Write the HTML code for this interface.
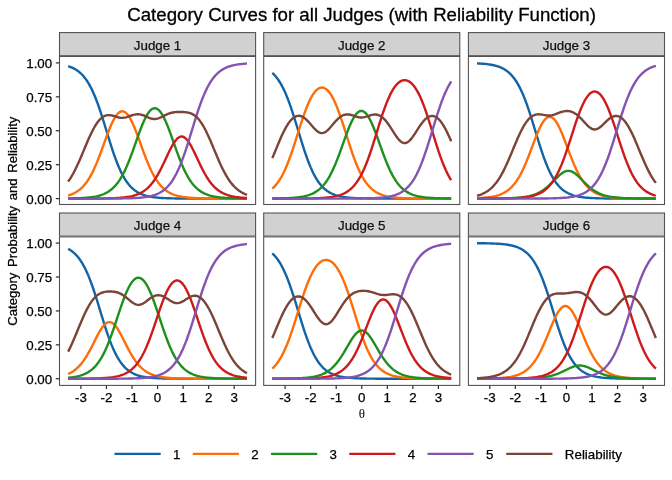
<!DOCTYPE html>
<html><head><meta charset="utf-8"><title>Category Curves for all Judges</title>
<style>
html,body{margin:0;padding:0;background:#fff;}
svg{display:block;will-change:transform}
text{font-family:"Liberation Sans",sans-serif;fill:#000;stroke:#000;stroke-width:0.25px}
.ax{font-size:13.33px;fill:#000}
.st{font-size:13.33px;fill:#101010;stroke:#101010}
.lg{font-size:13.33px}
.c{fill:none;stroke-width:2.4;stroke-linejoin:round;stroke-linecap:butt}
.b{fill:none;stroke:#505050;stroke-width:1.07}
.tk{stroke:#2c2c2c;stroke-width:1.2}
</style></head><body>
<svg width="672" height="480" viewBox="0 0 672 480">
<rect width="672" height="480" fill="#fff"/>
<text x="361.6" y="20.6" text-anchor="middle" style="font-size:18.67px;stroke-width:0.3px">Category Curves for all Judges (with Reliability Function)</text>
<text class="ax" transform="translate(17,221.2) rotate(-90)" text-anchor="middle" style="font-size:13.1px;word-spacing:2.0px">Category Probability and Reliability</text>
<text x="361.9" y="417.7" text-anchor="middle" style="font-family:'Liberation Serif','DejaVu Serif',serif;font-size:13px;stroke:none">θ</text>

<g>
<rect x="59.5" y="32.6" width="196.1" height="23.15" fill="#D1D1D1" stroke="#505050" stroke-width="1.07"/>
<text class="st" x="157.55" y="49.50" text-anchor="middle">Judge 1</text>
<rect x="59.5" y="56.1" width="196.1" height="148.4" fill="#fff"/>
<path class="c" stroke="#1364A7" d="M68.13,66.16 L69.40,66.57 L70.68,67.04 L71.96,67.57 L73.24,68.16 L74.51,68.82 L75.79,69.56 L77.07,70.39 L78.35,71.31 L79.62,72.34 L80.90,73.48 L82.18,74.75 L83.46,76.16 L84.73,77.71 L86.01,79.42 L87.29,81.30 L88.57,83.35 L89.84,85.59 L91.12,88.02 L92.40,90.65 L93.68,93.47 L94.95,96.50 L96.23,99.72 L97.51,103.12 L98.79,106.70 L100.06,110.44 L101.34,114.32 L102.62,118.32 L103.90,122.41 L105.17,126.57 L106.45,130.75 L107.73,134.93 L109.01,139.09 L110.28,143.18 L111.56,147.18 L112.84,151.06 L114.12,154.80 L115.39,158.38 L116.67,161.78 L117.95,165.00 L119.23,168.03 L120.50,170.85 L121.78,173.48 L123.06,175.91 L124.34,178.15 L125.61,180.20 L126.89,182.08 L128.17,183.79 L129.45,185.34 L130.72,186.75 L132.00,188.02 L133.28,189.16 L134.56,190.19 L135.83,191.11 L137.11,191.94 L138.39,192.68 L139.67,193.34 L140.94,193.93 L142.22,194.46 L143.50,194.93 L144.78,195.34 L146.05,195.71 L147.33,196.04 L148.61,196.33 L149.89,196.59 L151.16,196.82 L152.44,197.03 L153.72,197.21 L155.00,197.37 L156.27,197.51 L157.55,197.64 L158.83,197.75 L160.11,197.85 L161.38,197.93 L162.66,198.01 L163.94,198.08 L165.22,198.14 L166.49,198.19 L167.77,198.24 L169.05,198.28 L170.33,198.32 L171.60,198.35 L172.88,198.38 L174.16,198.41 L175.44,198.43 L176.71,198.45 L177.99,198.47 L179.27,198.48 L180.55,198.49 L181.82,198.51 L183.10,198.52 L184.38,198.53 L185.66,198.54 L186.93,198.54 L188.21,198.55 L189.49,198.56 L190.77,198.56 L192.04,198.57 L193.32,198.57 L194.60,198.57 L195.88,198.58 L197.15,198.58 L198.43,198.58 L199.71,198.58 L200.99,198.59 L202.26,198.59 L203.54,198.59 L204.82,198.59 L206.10,198.59 L207.37,198.59 L208.65,198.59 L209.93,198.59 L211.21,198.59 L212.48,198.60 L213.76,198.60 L215.04,198.60 L216.32,198.60 L217.59,198.60 L218.87,198.60 L220.15,198.60 L221.43,198.60 L222.70,198.60 L223.98,198.60 L225.26,198.60 L226.54,198.60 L227.81,198.60 L229.09,198.60 L230.37,198.60 L231.65,198.60 L232.92,198.60 L234.20,198.60 L235.48,198.60 L236.76,198.60 L238.03,198.60 L239.31,198.60 L240.59,198.60 L241.87,198.60 L243.14,198.60 L244.42,198.60 L245.70,198.60 L246.98,198.60"/>
<path class="c" stroke="#FF6D07" d="M68.13,195.50 L69.40,195.10 L70.68,194.66 L71.96,194.16 L73.24,193.60 L74.51,192.97 L75.79,192.27 L77.07,191.48 L78.35,190.61 L79.62,189.64 L80.90,188.55 L82.18,187.35 L83.46,186.03 L84.73,184.57 L86.01,182.96 L87.29,181.19 L88.57,179.27 L89.84,177.18 L91.12,174.91 L92.40,172.47 L93.68,169.86 L94.95,167.07 L96.23,164.12 L97.51,161.01 L98.79,157.77 L100.06,154.41 L101.34,150.96 L102.62,147.44 L103.90,143.89 L105.17,140.35 L106.45,136.84 L107.73,133.42 L109.01,130.11 L110.28,126.97 L111.56,124.03 L112.84,121.32 L114.12,118.88 L115.39,116.74 L116.67,114.92 L117.95,113.45 L119.23,112.35 L120.50,111.62 L121.78,111.28 L123.06,111.32 L124.34,111.76 L125.61,112.58 L126.89,113.77 L128.17,115.33 L129.45,117.22 L130.72,119.44 L132.00,121.95 L133.28,124.71 L134.56,127.71 L135.83,130.89 L137.11,134.23 L138.39,137.68 L139.67,141.19 L140.94,144.74 L142.22,148.29 L143.50,151.79 L144.78,155.23 L146.05,158.56 L147.33,161.77 L148.61,164.84 L149.89,167.75 L151.16,170.50 L152.44,173.07 L153.72,175.47 L155.00,177.70 L156.27,179.75 L157.55,181.63 L158.83,183.36 L160.11,184.93 L161.38,186.36 L162.66,187.65 L163.94,188.82 L165.22,189.88 L166.49,190.83 L167.77,191.68 L169.05,192.44 L170.33,193.13 L171.60,193.74 L172.88,194.28 L174.16,194.77 L175.44,195.20 L176.71,195.59 L177.99,195.93 L179.27,196.23 L180.55,196.50 L181.82,196.74 L183.10,196.96 L184.38,197.15 L185.66,197.31 L186.93,197.46 L188.21,197.59 L189.49,197.71 L190.77,197.81 L192.04,197.90 L193.32,197.98 L194.60,198.05 L195.88,198.12 L197.15,198.17 L198.43,198.22 L199.71,198.27 L200.99,198.31 L202.26,198.34 L203.54,198.37 L204.82,198.40 L206.10,198.42 L207.37,198.44 L208.65,198.46 L209.93,198.48 L211.21,198.49 L212.48,198.50 L213.76,198.51 L215.04,198.52 L216.32,198.53 L217.59,198.54 L218.87,198.55 L220.15,198.55 L221.43,198.56 L222.70,198.56 L223.98,198.57 L225.26,198.57 L226.54,198.58 L227.81,198.58 L229.09,198.58 L230.37,198.58 L231.65,198.58 L232.92,198.59 L234.20,198.59 L235.48,198.59 L236.76,198.59 L238.03,198.59 L239.31,198.59 L240.59,198.59 L241.87,198.59 L243.14,198.59 L244.42,198.60 L245.70,198.60 L246.98,198.60"/>
<path class="c" stroke="#1E901E" d="M68.13,198.45 L69.40,198.43 L70.68,198.41 L71.96,198.38 L73.24,198.35 L74.51,198.32 L75.79,198.28 L77.07,198.24 L78.35,198.20 L79.62,198.14 L80.90,198.08 L82.18,198.02 L83.46,197.94 L84.73,197.85 L86.01,197.76 L87.29,197.65 L88.57,197.52 L89.84,197.38 L91.12,197.22 L92.40,197.05 L93.68,196.84 L94.95,196.62 L96.23,196.36 L97.51,196.07 L98.79,195.75 L100.06,195.38 L101.34,194.97 L102.62,194.51 L103.90,194.00 L105.17,193.41 L106.45,192.77 L107.73,192.04 L109.01,191.23 L110.28,190.32 L111.56,189.32 L112.84,188.20 L114.12,186.96 L115.39,185.59 L116.67,184.08 L117.95,182.42 L119.23,180.60 L120.50,178.62 L121.78,176.46 L123.06,174.13 L124.34,171.62 L125.61,168.93 L126.89,166.07 L128.17,163.04 L129.45,159.86 L130.72,156.54 L132.00,153.10 L133.28,149.56 L134.56,145.97 L135.83,142.34 L137.11,138.71 L138.39,135.13 L139.67,131.63 L140.94,128.24 L142.22,125.02 L143.50,121.99 L144.78,119.19 L146.05,116.65 L147.33,114.41 L148.61,112.48 L149.89,110.89 L151.16,109.66 L152.44,108.79 L153.72,108.31 L155.00,108.20 L156.27,108.47 L157.55,109.13 L158.83,110.16 L160.11,111.55 L161.38,113.29 L162.66,115.36 L163.94,117.74 L165.22,120.39 L166.49,123.29 L167.77,126.41 L169.05,129.71 L170.33,133.16 L171.60,136.70 L172.88,140.31 L174.16,143.94 L175.44,147.56 L176.71,151.13 L177.99,154.62 L179.27,158.01 L180.55,161.28 L181.82,164.39 L183.10,167.35 L184.38,170.13 L185.66,172.74 L186.93,175.18 L188.21,177.43 L189.49,179.51 L190.77,181.42 L192.04,183.17 L193.32,184.76 L194.60,186.21 L195.88,187.52 L197.15,188.70 L198.43,189.77 L199.71,190.73 L200.99,191.60 L202.26,192.37 L203.54,193.06 L204.82,193.68 L206.10,194.23 L207.37,194.72 L208.65,195.16 L209.93,195.55 L211.21,195.90 L212.48,196.20 L213.76,196.48 L215.04,196.72 L216.32,196.94 L217.59,197.13 L218.87,197.30 L220.15,197.45 L221.43,197.58 L222.70,197.70 L223.98,197.80 L225.26,197.89 L226.54,197.98 L227.81,198.05 L229.09,198.11 L230.37,198.17 L231.65,198.22 L232.92,198.26 L234.20,198.30 L235.48,198.34 L236.76,198.37 L238.03,198.39 L239.31,198.42 L240.59,198.44 L241.87,198.46 L243.14,198.47 L244.42,198.49 L245.70,198.50 L246.98,198.51"/>
<path class="c" stroke="#CE1A1B" d="M68.13,198.59 L69.40,198.59 L70.68,198.59 L71.96,198.59 L73.24,198.59 L74.51,198.59 L75.79,198.59 L77.07,198.59 L78.35,198.59 L79.62,198.58 L80.90,198.58 L82.18,198.58 L83.46,198.58 L84.73,198.57 L86.01,198.57 L87.29,198.57 L88.57,198.56 L89.84,198.56 L91.12,198.55 L92.40,198.54 L93.68,198.54 L94.95,198.53 L96.23,198.52 L97.51,198.51 L98.79,198.50 L100.06,198.48 L101.34,198.47 L102.62,198.45 L103.90,198.43 L105.17,198.41 L106.45,198.38 L107.73,198.35 L109.01,198.32 L110.28,198.28 L111.56,198.24 L112.84,198.19 L114.12,198.14 L115.39,198.08 L116.67,198.01 L117.95,197.93 L119.23,197.85 L120.50,197.75 L121.78,197.64 L123.06,197.51 L124.34,197.37 L125.61,197.21 L126.89,197.03 L128.17,196.83 L129.45,196.60 L130.72,196.35 L132.00,196.06 L133.28,195.74 L134.56,195.37 L135.83,194.96 L137.11,194.50 L138.39,193.99 L139.67,193.41 L140.94,192.77 L142.22,192.05 L143.50,191.25 L144.78,190.37 L146.05,189.39 L147.33,188.30 L148.61,187.10 L149.89,185.78 L151.16,184.34 L152.44,182.76 L153.72,181.05 L155.00,179.20 L156.27,177.21 L157.55,175.08 L158.83,172.82 L160.11,170.44 L161.38,167.94 L162.66,165.34 L163.94,162.67 L165.22,159.95 L166.49,157.21 L167.77,154.49 L169.05,151.82 L170.33,149.24 L171.60,146.79 L172.88,144.53 L174.16,142.47 L175.44,140.68 L176.71,139.17 L177.99,137.98 L179.27,137.14 L180.55,136.65 L181.82,136.54 L183.10,136.80 L184.38,137.43 L185.66,138.42 L186.93,139.73 L188.21,141.36 L189.49,143.27 L190.77,145.41 L192.04,147.75 L193.32,150.26 L194.60,152.88 L195.88,155.57 L197.15,158.31 L198.43,161.04 L199.71,163.75 L200.99,166.39 L202.26,168.95 L203.54,171.40 L204.82,173.74 L206.10,175.95 L207.37,178.03 L208.65,179.96 L209.93,181.75 L211.21,183.41 L212.48,184.93 L213.76,186.32 L215.04,187.59 L216.32,188.75 L217.59,189.79 L218.87,190.73 L220.15,191.58 L221.43,192.35 L222.70,193.04 L223.98,193.65 L225.26,194.20 L226.54,194.69 L227.81,195.13 L229.09,195.52 L230.37,195.87 L231.65,196.18 L232.92,196.45 L234.20,196.70 L235.48,196.92 L236.76,197.11 L238.03,197.28 L239.31,197.43 L240.59,197.57 L241.87,197.69 L243.14,197.79 L244.42,197.88 L245.70,197.97 L246.98,198.04"/>
<path class="c" stroke="#8354B1" d="M68.13,198.60 L69.40,198.60 L70.68,198.60 L71.96,198.60 L73.24,198.60 L74.51,198.60 L75.79,198.60 L77.07,198.60 L78.35,198.60 L79.62,198.60 L80.90,198.60 L82.18,198.60 L83.46,198.60 L84.73,198.60 L86.01,198.60 L87.29,198.59 L88.57,198.59 L89.84,198.59 L91.12,198.59 L92.40,198.59 L93.68,198.59 L94.95,198.59 L96.23,198.59 L97.51,198.59 L98.79,198.58 L100.06,198.58 L101.34,198.58 L102.62,198.58 L103.90,198.57 L105.17,198.57 L106.45,198.56 L107.73,198.56 L109.01,198.55 L110.28,198.55 L111.56,198.54 L112.84,198.53 L114.12,198.53 L115.39,198.52 L116.67,198.50 L117.95,198.49 L119.23,198.48 L120.50,198.46 L121.78,198.44 L123.06,198.42 L124.34,198.40 L125.61,198.37 L126.89,198.34 L128.17,198.31 L129.45,198.27 L130.72,198.23 L132.00,198.18 L133.28,198.13 L134.56,198.07 L135.83,198.00 L137.11,197.92 L138.39,197.83 L139.67,197.73 L140.94,197.61 L142.22,197.48 L143.50,197.34 L144.78,197.17 L146.05,196.99 L147.33,196.78 L148.61,196.54 L149.89,196.28 L151.16,195.98 L152.44,195.64 L153.72,195.26 L155.00,194.84 L156.27,194.36 L157.55,193.82 L158.83,193.21 L160.11,192.54 L161.38,191.78 L162.66,190.94 L163.94,189.99 L165.22,188.94 L166.49,187.77 L167.77,186.48 L169.05,185.04 L170.33,183.46 L171.60,181.72 L172.88,179.81 L174.16,177.72 L175.44,175.44 L176.71,172.97 L177.99,170.30 L179.27,167.44 L180.55,164.37 L181.82,161.12 L183.10,157.68 L184.38,154.06 L185.66,150.29 L186.93,146.39 L188.21,142.37 L189.49,138.26 L190.77,134.10 L192.04,129.91 L193.32,125.73 L194.60,121.59 L195.88,117.51 L197.15,113.54 L198.43,109.68 L199.71,105.97 L200.99,102.43 L202.26,99.06 L203.54,95.88 L204.82,92.89 L206.10,90.11 L207.37,87.52 L208.65,85.13 L209.93,82.93 L211.21,80.91 L212.48,79.07 L213.76,77.39 L215.04,75.87 L216.32,74.49 L217.59,73.24 L218.87,72.12 L220.15,71.12 L221.43,70.21 L222.70,69.41 L223.98,68.68 L225.26,68.04 L226.54,67.46 L227.81,66.95 L229.09,66.49 L230.37,66.08 L231.65,65.72 L232.92,65.40 L234.20,65.11 L235.48,64.86 L236.76,64.63 L238.03,64.43 L239.31,64.26 L240.59,64.10 L241.87,63.96 L243.14,63.84 L244.42,63.73 L245.70,63.64 L246.98,63.55"/>
<path class="c" stroke="#7B4439" d="M68.13,181.63 L69.40,179.81 L70.68,177.84 L71.96,175.73 L73.24,173.47 L74.51,171.06 L75.79,168.52 L77.07,165.85 L78.35,163.07 L79.62,160.18 L80.90,157.21 L82.18,154.19 L83.46,151.12 L84.73,148.05 L86.01,145.00 L87.29,141.99 L88.57,139.05 L89.84,136.21 L91.12,133.49 L92.40,130.91 L93.68,128.49 L94.95,126.26 L96.23,124.21 L97.51,122.36 L98.79,120.73 L100.06,119.31 L101.34,118.10 L102.62,117.10 L103.90,116.32 L105.17,115.73 L106.45,115.34 L107.73,115.13 L109.01,115.09 L110.28,115.18 L111.56,115.40 L112.84,115.71 L114.12,116.08 L115.39,116.48 L116.67,116.88 L117.95,117.25 L119.23,117.54 L120.50,117.75 L121.78,117.84 L123.06,117.81 L124.34,117.67 L125.61,117.41 L126.89,117.07 L128.17,116.65 L129.45,116.20 L130.72,115.74 L132.00,115.31 L133.28,114.92 L134.56,114.61 L135.83,114.39 L137.11,114.27 L138.39,114.28 L139.67,114.40 L140.94,114.64 L142.22,114.98 L143.50,115.42 L144.78,115.92 L146.05,116.47 L147.33,117.04 L148.61,117.59 L149.89,118.09 L151.16,118.50 L152.44,118.80 L153.72,118.97 L155.00,119.00 L156.27,118.87 L157.55,118.60 L158.83,118.20 L160.11,117.70 L161.38,117.11 L162.66,116.48 L163.94,115.82 L165.22,115.17 L166.49,114.56 L167.77,113.99 L169.05,113.50 L170.33,113.07 L171.60,112.73 L172.88,112.46 L174.16,112.26 L175.44,112.12 L176.71,112.03 L177.99,111.98 L179.27,111.97 L180.55,111.97 L181.82,112.00 L183.10,112.05 L184.38,112.13 L185.66,112.24 L186.93,112.40 L188.21,112.63 L189.49,112.95 L190.77,113.37 L192.04,113.92 L193.32,114.60 L194.60,115.44 L195.88,116.46 L197.15,117.65 L198.43,119.02 L199.71,120.60 L200.99,122.36 L202.26,124.32 L203.54,126.46 L204.82,128.78 L206.10,131.27 L207.37,133.91 L208.65,136.68 L209.93,139.56 L211.21,142.53 L212.48,145.57 L213.76,148.63 L215.04,151.71 L216.32,154.78 L217.59,157.80 L218.87,160.75 L220.15,163.62 L221.43,166.39 L222.70,169.04 L223.98,171.55 L225.26,173.93 L226.54,176.16 L227.81,178.25 L229.09,180.18 L230.37,181.97 L231.65,183.62 L232.92,185.13 L234.20,186.51 L235.48,187.76 L236.76,188.90 L238.03,189.93 L239.31,190.86 L240.59,191.70 L241.87,192.46 L243.14,193.13 L244.42,193.74 L245.70,194.28 L246.98,194.76"/>
<rect class="b" x="59.5" y="56.45" width="196.1" height="148.05"/>
<line class="tk" x1="55.83" x2="59.5" y1="198.60" y2="198.60"/>
<text class="ax" x="52.20" y="203.50" text-anchor="end">0.00</text>
<line class="tk" x1="55.83" x2="59.5" y1="164.68" y2="164.68"/>
<text class="ax" x="52.20" y="169.58" text-anchor="end">0.25</text>
<line class="tk" x1="55.83" x2="59.5" y1="130.75" y2="130.75"/>
<text class="ax" x="52.20" y="135.65" text-anchor="end">0.50</text>
<line class="tk" x1="55.83" x2="59.5" y1="96.83" y2="96.83"/>
<text class="ax" x="52.20" y="101.73" text-anchor="end">0.75</text>
<line class="tk" x1="55.83" x2="59.5" y1="62.90" y2="62.90"/>
<text class="ax" x="52.20" y="67.80" text-anchor="end">1.00</text>
</g>
<g>
<rect x="263.7" y="32.6" width="196.1" height="23.15" fill="#D1D1D1" stroke="#505050" stroke-width="1.07"/>
<text class="st" x="361.75" y="49.50" text-anchor="middle">Judge 2</text>
<rect x="263.7" y="56.1" width="196.1" height="148.4" fill="#fff"/>
<path class="c" stroke="#1364A7" d="M272.32,72.94 L273.60,74.16 L274.88,75.51 L276.16,77.01 L277.44,78.66 L278.71,80.48 L279.99,82.48 L281.27,84.66 L282.55,87.03 L283.82,89.60 L285.10,92.37 L286.38,95.34 L287.65,98.51 L288.93,101.88 L290.21,105.43 L291.49,109.14 L292.76,113.01 L294.04,117.00 L295.32,121.10 L296.60,125.27 L297.88,129.48 L299.15,133.70 L300.43,137.90 L301.71,142.05 L302.99,146.11 L304.26,150.05 L305.54,153.86 L306.82,157.51 L308.10,160.99 L309.37,164.28 L310.65,167.37 L311.93,170.27 L313.20,172.96 L314.48,175.45 L315.76,177.74 L317.04,179.84 L318.31,181.77 L319.59,183.52 L320.87,185.11 L322.15,186.55 L323.43,187.85 L324.70,189.02 L325.98,190.07 L327.26,191.01 L328.54,191.85 L329.81,192.61 L331.09,193.28 L332.37,193.88 L333.64,194.42 L334.92,194.90 L336.20,195.32 L337.48,195.69 L338.75,196.03 L340.03,196.32 L341.31,196.59 L342.59,196.82 L343.87,197.03 L345.14,197.21 L346.42,197.37 L347.70,197.51 L348.98,197.64 L350.25,197.75 L351.53,197.85 L352.81,197.94 L354.08,198.01 L355.36,198.08 L356.64,198.14 L357.92,198.20 L359.19,198.24 L360.47,198.28 L361.75,198.32 L363.03,198.35 L364.31,198.38 L365.58,198.41 L366.86,198.43 L368.14,198.45 L369.42,198.47 L370.69,198.48 L371.97,198.50 L373.25,198.51 L374.52,198.52 L375.80,198.53 L377.08,198.54 L378.36,198.54 L379.63,198.55 L380.91,198.56 L382.19,198.56 L383.47,198.57 L384.75,198.57 L386.02,198.57 L387.30,198.58 L388.58,198.58 L389.86,198.58 L391.13,198.58 L392.41,198.59 L393.69,198.59 L394.97,198.59 L396.24,198.59 L397.52,198.59 L398.80,198.59 L400.07,198.59 L401.35,198.59 L402.63,198.59 L403.91,198.60 L405.19,198.60 L406.46,198.60 L407.74,198.60 L409.02,198.60 L410.30,198.60 L411.57,198.60 L412.85,198.60 L414.13,198.60 L415.41,198.60 L416.68,198.60 L417.96,198.60 L419.24,198.60 L420.52,198.60 L421.79,198.60 L423.07,198.60 L424.35,198.60 L425.62,198.60 L426.90,198.60 L428.18,198.60 L429.46,198.60 L430.74,198.60 L432.01,198.60 L433.29,198.60 L434.57,198.60 L435.85,198.60 L437.12,198.60 L438.40,198.60 L439.68,198.60 L440.96,198.60 L442.23,198.60 L443.51,198.60 L444.79,198.60 L446.07,198.60 L447.34,198.60 L448.62,198.60 L449.90,198.60 L451.18,198.60"/>
<path class="c" stroke="#FF6D07" d="M272.32,188.67 L273.60,187.47 L274.88,186.13 L276.16,184.65 L277.44,183.02 L278.71,181.22 L279.99,179.25 L281.27,177.10 L282.55,174.77 L283.82,172.23 L285.10,169.51 L286.38,166.58 L287.65,163.47 L288.93,160.17 L290.21,156.69 L291.49,153.05 L292.76,149.28 L294.04,145.39 L295.32,141.41 L296.60,137.37 L297.88,133.31 L299.15,129.26 L300.43,125.25 L301.71,121.32 L302.99,117.51 L304.26,113.84 L305.54,110.34 L306.82,107.04 L308.10,103.95 L309.37,101.11 L310.65,98.51 L311.93,96.18 L313.20,94.12 L314.48,92.34 L315.76,90.83 L317.04,89.61 L318.31,88.67 L319.59,88.02 L320.87,87.65 L322.15,87.56 L323.43,87.76 L324.70,88.25 L325.98,89.01 L327.26,90.07 L328.54,91.40 L329.81,93.02 L331.09,94.91 L332.37,97.08 L333.64,99.52 L334.92,102.22 L336.20,105.16 L337.48,108.33 L338.75,111.71 L340.03,115.29 L341.31,119.02 L342.59,122.88 L343.87,126.85 L345.14,130.88 L346.42,134.94 L347.70,138.99 L348.98,143.01 L350.25,146.96 L351.53,150.80 L352.81,154.53 L354.08,158.10 L355.36,161.51 L356.64,164.74 L357.92,167.78 L359.19,170.62 L360.47,173.27 L361.75,175.72 L363.03,177.98 L364.31,180.06 L365.58,181.96 L366.86,183.69 L368.14,185.26 L369.42,186.68 L370.69,187.96 L371.97,189.12 L373.25,190.16 L374.52,191.09 L375.80,191.93 L377.08,192.67 L378.36,193.34 L379.63,193.93 L380.91,194.46 L382.19,194.93 L383.47,195.35 L384.75,195.72 L386.02,196.05 L387.30,196.35 L388.58,196.61 L389.86,196.84 L391.13,197.04 L392.41,197.22 L393.69,197.38 L394.97,197.52 L396.24,197.65 L397.52,197.76 L398.80,197.86 L400.07,197.94 L401.35,198.02 L402.63,198.09 L403.91,198.15 L405.19,198.20 L406.46,198.25 L407.74,198.29 L409.02,198.32 L410.30,198.36 L411.57,198.39 L412.85,198.41 L414.13,198.43 L415.41,198.45 L416.68,198.47 L417.96,198.48 L419.24,198.50 L420.52,198.51 L421.79,198.52 L423.07,198.53 L424.35,198.54 L425.62,198.55 L426.90,198.55 L428.18,198.56 L429.46,198.56 L430.74,198.57 L432.01,198.57 L433.29,198.57 L434.57,198.58 L435.85,198.58 L437.12,198.58 L438.40,198.58 L439.68,198.59 L440.96,198.59 L442.23,198.59 L443.51,198.59 L444.79,198.59 L446.07,198.59 L447.34,198.59 L448.62,198.59 L449.90,198.59 L451.18,198.60"/>
<path class="c" stroke="#1E901E" d="M272.32,198.50 L273.60,198.48 L274.88,198.47 L276.16,198.45 L277.44,198.43 L278.71,198.41 L279.99,198.38 L281.27,198.35 L282.55,198.32 L283.82,198.28 L285.10,198.24 L286.38,198.20 L287.65,198.14 L288.93,198.08 L290.21,198.01 L291.49,197.94 L292.76,197.85 L294.04,197.75 L295.32,197.64 L296.60,197.51 L297.88,197.37 L299.15,197.21 L300.43,197.02 L301.71,196.82 L302.99,196.58 L304.26,196.32 L305.54,196.03 L306.82,195.69 L308.10,195.32 L309.37,194.90 L310.65,194.42 L311.93,193.89 L313.20,193.29 L314.48,192.62 L315.76,191.87 L317.04,191.03 L318.31,190.10 L319.59,189.06 L320.87,187.91 L322.15,186.63 L323.43,185.21 L324.70,183.66 L325.98,181.95 L327.26,180.07 L328.54,178.03 L329.81,175.81 L331.09,173.42 L332.37,170.85 L333.64,168.10 L334.92,165.18 L336.20,162.10 L337.48,158.88 L338.75,155.52 L340.03,152.06 L341.31,148.53 L342.59,144.95 L343.87,141.36 L345.14,137.80 L346.42,134.30 L347.70,130.92 L348.98,127.69 L350.25,124.65 L351.53,121.84 L352.81,119.29 L354.08,117.03 L355.36,115.10 L356.64,113.51 L357.92,112.29 L359.19,111.44 L360.47,110.99 L361.75,110.93 L363.03,111.27 L364.31,111.99 L365.58,113.10 L366.86,114.58 L368.14,116.42 L369.42,118.58 L370.69,121.04 L371.97,123.78 L373.25,126.76 L374.52,129.94 L375.80,133.28 L377.08,136.74 L378.36,140.28 L379.63,143.87 L380.91,147.46 L382.19,151.01 L383.47,154.49 L384.75,157.88 L386.02,161.15 L387.30,164.27 L388.58,167.24 L389.86,170.04 L391.13,172.67 L392.41,175.12 L393.69,177.38 L394.97,179.48 L396.24,181.40 L397.52,183.16 L398.80,184.76 L400.07,186.22 L401.35,187.54 L402.63,188.73 L403.91,189.80 L405.19,190.77 L406.46,191.63 L407.74,192.41 L409.02,193.10 L410.30,193.72 L411.57,194.27 L412.85,194.76 L414.13,195.20 L415.41,195.59 L416.68,195.93 L417.96,196.24 L419.24,196.51 L420.52,196.75 L421.79,196.96 L423.07,197.15 L424.35,197.32 L425.62,197.47 L426.90,197.60 L428.18,197.72 L429.46,197.82 L430.74,197.91 L432.01,197.99 L433.29,198.06 L434.57,198.12 L435.85,198.18 L437.12,198.23 L438.40,198.27 L439.68,198.31 L440.96,198.34 L442.23,198.37 L443.51,198.40 L444.79,198.42 L446.07,198.44 L447.34,198.46 L448.62,198.48 L449.90,198.49 L451.18,198.51"/>
<path class="c" stroke="#CE1A1B" d="M272.32,198.60 L273.60,198.59 L274.88,198.59 L276.16,198.59 L277.44,198.59 L278.71,198.59 L279.99,198.59 L281.27,198.59 L282.55,198.59 L283.82,198.58 L285.10,198.58 L286.38,198.58 L287.65,198.58 L288.93,198.57 L290.21,198.57 L291.49,198.57 L292.76,198.56 L294.04,198.56 L295.32,198.55 L296.60,198.55 L297.88,198.54 L299.15,198.53 L300.43,198.52 L301.71,198.51 L302.99,198.50 L304.26,198.49 L305.54,198.47 L306.82,198.46 L308.10,198.44 L309.37,198.42 L310.65,198.39 L311.93,198.36 L313.20,198.33 L314.48,198.30 L315.76,198.26 L317.04,198.21 L318.31,198.16 L319.59,198.10 L320.87,198.04 L322.15,197.96 L323.43,197.88 L324.70,197.79 L325.98,197.68 L327.26,197.56 L328.54,197.42 L329.81,197.26 L331.09,197.09 L332.37,196.89 L333.64,196.67 L334.92,196.42 L336.20,196.13 L337.48,195.81 L338.75,195.45 L340.03,195.04 L341.31,194.59 L342.59,194.07 L343.87,193.50 L345.14,192.85 L346.42,192.12 L347.70,191.31 L348.98,190.40 L350.25,189.39 L351.53,188.26 L352.81,187.01 L354.08,185.62 L355.36,184.09 L356.64,182.40 L357.92,180.54 L359.19,178.50 L360.47,176.28 L361.75,173.86 L363.03,171.25 L364.31,168.44 L365.58,165.43 L366.86,162.23 L368.14,158.84 L369.42,155.27 L370.69,151.55 L371.97,147.68 L373.25,143.71 L374.52,139.64 L375.80,135.52 L377.08,131.37 L378.36,127.24 L379.63,123.14 L380.91,119.13 L382.19,115.22 L383.47,111.45 L384.75,107.83 L386.02,104.40 L387.30,101.18 L388.58,98.16 L389.86,95.38 L391.13,92.83 L392.41,90.51 L393.69,88.43 L394.97,86.60 L396.24,85.00 L397.52,83.63 L398.80,82.50 L400.07,81.59 L401.35,80.91 L402.63,80.44 L403.91,80.20 L405.19,80.18 L406.46,80.38 L407.74,80.80 L409.02,81.43 L410.30,82.30 L411.57,83.39 L412.85,84.70 L414.13,86.26 L415.41,88.05 L416.68,90.08 L417.96,92.34 L419.24,94.85 L420.52,97.59 L421.79,100.56 L423.07,103.74 L424.35,107.13 L425.62,110.71 L426.90,114.45 L428.18,118.34 L429.46,122.33 L430.74,126.41 L432.01,130.54 L433.29,134.69 L434.57,138.82 L435.85,142.90 L437.12,146.90 L438.40,150.78 L439.68,154.54 L440.96,158.14 L442.23,161.57 L443.51,164.81 L444.79,167.86 L446.07,170.71 L447.34,173.36 L448.62,175.81 L449.90,178.07 L451.18,180.14"/>
<path class="c" stroke="#8354B1" d="M272.32,198.60 L273.60,198.60 L274.88,198.60 L276.16,198.60 L277.44,198.60 L278.71,198.60 L279.99,198.60 L281.27,198.60 L282.55,198.60 L283.82,198.60 L285.10,198.60 L286.38,198.60 L287.65,198.60 L288.93,198.60 L290.21,198.60 L291.49,198.60 L292.76,198.60 L294.04,198.60 L295.32,198.60 L296.60,198.60 L297.88,198.60 L299.15,198.60 L300.43,198.60 L301.71,198.60 L302.99,198.60 L304.26,198.60 L305.54,198.60 L306.82,198.60 L308.10,198.60 L309.37,198.60 L310.65,198.60 L311.93,198.60 L313.20,198.60 L314.48,198.60 L315.76,198.60 L317.04,198.60 L318.31,198.60 L319.59,198.60 L320.87,198.60 L322.15,198.60 L323.43,198.60 L324.70,198.60 L325.98,198.60 L327.26,198.60 L328.54,198.59 L329.81,198.59 L331.09,198.59 L332.37,198.59 L333.64,198.59 L334.92,198.59 L336.20,198.59 L337.48,198.59 L338.75,198.59 L340.03,198.58 L341.31,198.58 L342.59,198.58 L343.87,198.58 L345.14,198.57 L346.42,198.57 L347.70,198.56 L348.98,198.56 L350.25,198.55 L351.53,198.55 L352.81,198.54 L354.08,198.53 L355.36,198.52 L356.64,198.51 L357.92,198.50 L359.19,198.49 L360.47,198.48 L361.75,198.46 L363.03,198.44 L364.31,198.42 L365.58,198.40 L366.86,198.37 L368.14,198.34 L369.42,198.30 L370.69,198.26 L371.97,198.22 L373.25,198.17 L374.52,198.11 L375.80,198.05 L377.08,197.98 L378.36,197.89 L379.63,197.80 L380.91,197.70 L382.19,197.58 L383.47,197.44 L384.75,197.29 L386.02,197.12 L387.30,196.93 L388.58,196.71 L389.86,196.46 L391.13,196.18 L392.41,195.87 L393.69,195.51 L394.97,195.11 L396.24,194.66 L397.52,194.16 L398.80,193.59 L400.07,192.96 L401.35,192.24 L402.63,191.44 L403.91,190.55 L405.19,189.56 L406.46,188.45 L407.74,187.21 L409.02,185.85 L410.30,184.33 L411.57,182.66 L412.85,180.83 L414.13,178.81 L415.41,176.62 L416.68,174.23 L417.96,171.64 L419.24,168.84 L420.52,165.85 L421.79,162.66 L423.07,159.28 L424.35,155.71 L425.62,151.98 L426.90,148.10 L428.18,144.09 L429.46,139.98 L430.74,135.81 L432.01,131.59 L433.29,127.37 L434.57,123.18 L435.85,119.04 L437.12,114.99 L438.40,111.06 L439.68,107.26 L440.96,103.63 L442.23,100.17 L443.51,96.90 L444.79,93.83 L446.07,90.96 L447.34,88.29 L448.62,85.82 L449.90,83.54 L451.18,81.46"/>
<path class="c" stroke="#7B4439" d="M272.32,158.15 L273.60,155.11 L274.88,152.02 L276.16,148.91 L277.44,145.81 L278.71,142.75 L279.99,139.76 L281.27,136.85 L282.55,134.07 L283.82,131.42 L285.10,128.94 L286.38,126.64 L287.65,124.54 L288.93,122.64 L290.21,120.97 L291.49,119.52 L292.76,118.31 L294.04,117.34 L295.32,116.60 L296.60,116.10 L297.88,115.84 L299.15,115.81 L300.43,116.00 L301.71,116.42 L302.99,117.05 L304.26,117.88 L305.54,118.88 L306.82,120.05 L308.10,121.35 L309.37,122.76 L310.65,124.24 L311.93,125.74 L313.20,127.23 L314.48,128.65 L315.76,129.95 L317.04,131.09 L318.31,132.01 L319.59,132.68 L320.87,133.06 L322.15,133.15 L323.43,132.94 L324.70,132.43 L325.98,131.65 L327.26,130.63 L328.54,129.41 L329.81,128.04 L331.09,126.57 L332.37,125.04 L333.64,123.51 L334.92,122.02 L336.20,120.60 L337.48,119.29 L338.75,118.11 L340.03,117.07 L341.31,116.20 L342.59,115.50 L343.87,114.97 L345.14,114.62 L346.42,114.43 L347.70,114.40 L348.98,114.51 L350.25,114.74 L351.53,115.06 L352.81,115.46 L354.08,115.89 L355.36,116.32 L356.64,116.72 L357.92,117.05 L359.19,117.30 L360.47,117.44 L361.75,117.46 L363.03,117.36 L364.31,117.15 L365.58,116.84 L366.86,116.46 L368.14,116.04 L369.42,115.62 L370.69,115.22 L371.97,114.88 L373.25,114.64 L374.52,114.51 L375.80,114.53 L377.08,114.70 L378.36,115.05 L379.63,115.58 L380.91,116.31 L382.19,117.22 L383.47,118.33 L384.75,119.62 L386.02,121.09 L387.30,122.72 L388.58,124.49 L389.86,126.38 L391.13,128.34 L392.41,130.36 L393.69,132.38 L394.97,134.37 L396.24,136.26 L397.52,138.01 L398.80,139.57 L400.07,140.89 L401.35,141.93 L402.63,142.66 L403.91,143.05 L405.19,143.09 L406.46,142.77 L407.74,142.11 L409.02,141.13 L410.30,139.87 L411.57,138.36 L412.85,136.65 L414.13,134.79 L415.41,132.83 L416.68,130.83 L417.96,128.83 L419.24,126.87 L420.52,125.00 L421.79,123.24 L423.07,121.63 L424.35,120.19 L425.62,118.94 L426.90,117.90 L428.18,117.07 L429.46,116.47 L430.74,116.10 L432.01,115.97 L433.29,116.07 L434.57,116.43 L435.85,117.02 L437.12,117.86 L438.40,118.94 L439.68,120.26 L440.96,121.81 L442.23,123.59 L443.51,125.58 L444.79,127.78 L446.07,130.17 L447.34,132.74 L448.62,135.45 L449.90,138.30 L451.18,141.25"/>
<rect class="b" x="263.7" y="56.45" width="196.1" height="148.05"/>
</g>
<g>
<rect x="468.4" y="32.6" width="196.1" height="23.15" fill="#D1D1D1" stroke="#505050" stroke-width="1.07"/>
<text class="st" x="566.45" y="49.50" text-anchor="middle">Judge 3</text>
<rect x="468.4" y="56.1" width="196.1" height="148.4" fill="#fff"/>
<path class="c" stroke="#1364A7" d="M477.02,63.37 L478.30,63.44 L479.58,63.51 L480.86,63.59 L482.13,63.68 L483.41,63.78 L484.69,63.89 L485.97,64.02 L487.24,64.17 L488.52,64.34 L489.80,64.52 L491.08,64.73 L492.35,64.97 L493.63,65.24 L494.91,65.54 L496.19,65.89 L497.46,66.27 L498.74,66.70 L500.02,67.19 L501.30,67.73 L502.57,68.35 L503.85,69.03 L505.13,69.80 L506.41,70.66 L507.68,71.62 L508.96,72.69 L510.24,73.88 L511.52,75.19 L512.79,76.65 L514.07,78.26 L515.35,80.03 L516.63,81.98 L517.90,84.10 L519.18,86.42 L520.46,88.93 L521.74,91.63 L523.01,94.54 L524.29,97.65 L525.57,100.95 L526.85,104.44 L528.12,108.10 L529.40,111.91 L530.68,115.85 L531.96,119.91 L533.23,124.04 L534.51,128.23 L535.79,132.43 L537.07,136.62 L538.34,140.77 L539.62,144.84 L540.90,148.81 L542.18,152.65 L543.45,156.34 L544.73,159.86 L546.01,163.20 L547.29,166.35 L548.56,169.30 L549.84,172.05 L551.12,174.60 L552.40,176.95 L553.67,179.11 L554.95,181.09 L556.23,182.90 L557.51,184.54 L558.78,186.03 L560.06,187.37 L561.34,188.58 L562.62,189.68 L563.89,190.66 L565.17,191.53 L566.45,192.32 L567.73,193.02 L569.00,193.65 L570.28,194.21 L571.56,194.70 L572.84,195.15 L574.11,195.54 L575.39,195.89 L576.67,196.20 L577.95,196.48 L579.22,196.72 L580.50,196.94 L581.78,197.13 L583.06,197.30 L584.33,197.45 L585.61,197.58 L586.89,197.70 L588.17,197.80 L589.44,197.90 L590.72,197.98 L592.00,198.05 L593.28,198.11 L594.55,198.17 L595.83,198.22 L597.11,198.27 L598.39,198.30 L599.66,198.34 L600.94,198.37 L602.22,198.40 L603.50,198.42 L604.77,198.44 L606.05,198.46 L607.33,198.48 L608.61,198.49 L609.88,198.50 L611.16,198.51 L612.44,198.52 L613.72,198.53 L614.99,198.54 L616.27,198.55 L617.55,198.55 L618.83,198.56 L620.10,198.56 L621.38,198.57 L622.66,198.57 L623.94,198.58 L625.21,198.58 L626.49,198.58 L627.77,198.58 L629.05,198.58 L630.32,198.59 L631.60,198.59 L632.88,198.59 L634.16,198.59 L635.43,198.59 L636.71,198.59 L637.99,198.59 L639.27,198.59 L640.54,198.60 L641.82,198.60 L643.10,198.60 L644.38,198.60 L645.65,198.60 L646.93,198.60 L648.21,198.60 L649.49,198.60 L650.76,198.60 L652.04,198.60 L653.32,198.60 L654.60,198.60 L655.87,198.60"/>
<path class="c" stroke="#FF6D07" d="M477.02,198.16 L478.30,198.10 L479.58,198.03 L480.86,197.96 L482.13,197.87 L483.41,197.78 L484.69,197.67 L485.97,197.55 L487.24,197.41 L488.52,197.25 L489.80,197.08 L491.08,196.88 L492.35,196.66 L493.63,196.41 L494.91,196.12 L496.19,195.80 L497.46,195.44 L498.74,195.04 L500.02,194.58 L501.30,194.07 L502.57,193.50 L503.85,192.86 L505.13,192.14 L506.41,191.34 L507.68,190.45 L508.96,189.46 L510.24,188.35 L511.52,187.13 L512.79,185.78 L514.07,184.29 L515.35,182.66 L516.63,180.87 L517.90,178.92 L519.18,176.81 L520.46,174.52 L521.74,172.07 L523.01,169.44 L524.29,166.66 L525.57,163.72 L526.85,160.64 L528.12,157.44 L529.40,154.15 L530.68,150.78 L531.96,147.37 L533.23,143.97 L534.51,140.59 L535.79,137.30 L537.07,134.12 L538.34,131.09 L539.62,128.27 L540.90,125.69 L542.18,123.38 L543.45,121.38 L544.73,119.72 L546.01,118.41 L547.29,117.49 L548.56,116.95 L549.84,116.81 L551.12,117.07 L552.40,117.72 L553.67,118.77 L554.95,120.18 L556.23,121.95 L557.51,124.05 L558.78,126.44 L560.06,129.10 L561.34,131.98 L562.62,135.05 L563.89,138.27 L565.17,141.60 L566.45,144.99 L567.73,148.40 L569.00,151.80 L570.28,155.14 L571.56,158.41 L572.84,161.58 L574.11,164.62 L575.39,167.51 L576.67,170.25 L577.95,172.82 L579.22,175.23 L580.50,177.46 L581.78,179.52 L583.06,181.42 L584.33,183.17 L585.61,184.75 L586.89,186.20 L588.17,187.51 L589.44,188.70 L590.72,189.77 L592.00,190.73 L593.28,191.59 L594.55,192.37 L595.83,193.06 L597.11,193.68 L598.39,194.23 L599.66,194.72 L600.94,195.16 L602.22,195.55 L603.50,195.90 L604.77,196.21 L606.05,196.48 L607.33,196.73 L608.61,196.94 L609.88,197.13 L611.16,197.30 L612.44,197.45 L613.72,197.58 L614.99,197.70 L616.27,197.81 L617.55,197.90 L618.83,197.98 L620.10,198.05 L621.38,198.12 L622.66,198.17 L623.94,198.22 L625.21,198.27 L626.49,198.30 L627.77,198.34 L629.05,198.37 L630.32,198.40 L631.60,198.42 L632.88,198.44 L634.16,198.46 L635.43,198.48 L636.71,198.49 L637.99,198.50 L639.27,198.51 L640.54,198.52 L641.82,198.53 L643.10,198.54 L644.38,198.55 L645.65,198.55 L646.93,198.56 L648.21,198.56 L649.49,198.57 L650.76,198.57 L652.04,198.58 L653.32,198.58 L654.60,198.58 L655.87,198.58"/>
<path class="c" stroke="#1E901E" d="M477.02,198.58 L478.30,198.58 L479.58,198.58 L480.86,198.58 L482.13,198.57 L483.41,198.57 L484.69,198.57 L485.97,198.56 L487.24,198.56 L488.52,198.55 L489.80,198.54 L491.08,198.54 L492.35,198.53 L493.63,198.52 L494.91,198.51 L496.19,198.49 L497.46,198.48 L498.74,198.46 L500.02,198.45 L501.30,198.43 L502.57,198.40 L503.85,198.38 L505.13,198.35 L506.41,198.32 L507.68,198.28 L508.96,198.24 L510.24,198.19 L511.52,198.14 L512.79,198.07 L514.07,198.01 L515.35,197.93 L516.63,197.84 L517.90,197.74 L519.18,197.63 L520.46,197.51 L521.74,197.37 L523.01,197.21 L524.29,197.03 L525.57,196.83 L526.85,196.60 L528.12,196.35 L529.40,196.07 L530.68,195.75 L531.96,195.40 L533.23,195.01 L534.51,194.57 L535.79,194.08 L537.07,193.55 L538.34,192.95 L539.62,192.30 L540.90,191.59 L542.18,190.80 L543.45,189.95 L544.73,189.04 L546.01,188.05 L547.29,186.99 L548.56,185.87 L549.84,184.69 L551.12,183.46 L552.40,182.19 L553.67,180.90 L554.95,179.59 L556.23,178.29 L557.51,177.03 L558.78,175.81 L560.06,174.68 L561.34,173.65 L562.62,172.75 L563.89,172.00 L565.17,171.42 L566.45,171.03 L567.73,170.83 L569.00,170.84 L570.28,171.06 L571.56,171.47 L572.84,172.07 L574.11,172.83 L575.39,173.75 L576.67,174.79 L577.95,175.93 L579.22,177.15 L580.50,178.42 L581.78,179.72 L583.06,181.03 L584.33,182.32 L585.61,183.59 L586.89,184.81 L588.17,185.99 L589.44,187.10 L590.72,188.15 L592.00,189.13 L593.28,190.04 L594.55,190.89 L595.83,191.66 L597.11,192.37 L598.39,193.02 L599.66,193.60 L600.94,194.13 L602.22,194.62 L603.50,195.05 L604.77,195.44 L606.05,195.79 L607.33,196.10 L608.61,196.38 L609.88,196.63 L611.16,196.85 L612.44,197.05 L613.72,197.22 L614.99,197.38 L616.27,197.52 L617.55,197.64 L618.83,197.75 L620.10,197.85 L621.38,197.94 L622.66,198.01 L623.94,198.08 L625.21,198.14 L626.49,198.19 L627.77,198.24 L629.05,198.28 L630.32,198.32 L631.60,198.35 L632.88,198.38 L634.16,198.41 L635.43,198.43 L636.71,198.45 L637.99,198.47 L639.27,198.48 L640.54,198.50 L641.82,198.51 L643.10,198.52 L644.38,198.53 L645.65,198.54 L646.93,198.54 L648.21,198.55 L649.49,198.56 L650.76,198.56 L652.04,198.57 L653.32,198.57 L654.60,198.57 L655.87,198.58"/>
<path class="c" stroke="#CE1A1B" d="M477.02,198.59 L478.30,198.59 L479.58,198.58 L480.86,198.58 L482.13,198.58 L483.41,198.58 L484.69,198.57 L485.97,198.57 L487.24,198.57 L488.52,198.56 L489.80,198.56 L491.08,198.55 L492.35,198.54 L493.63,198.54 L494.91,198.53 L496.19,198.52 L497.46,198.51 L498.74,198.50 L500.02,198.48 L501.30,198.47 L502.57,198.45 L503.85,198.43 L505.13,198.41 L506.41,198.38 L507.68,198.35 L508.96,198.32 L510.24,198.29 L511.52,198.24 L512.79,198.20 L514.07,198.14 L515.35,198.08 L516.63,198.02 L517.90,197.94 L519.18,197.85 L520.46,197.76 L521.74,197.64 L523.01,197.52 L524.29,197.38 L525.57,197.22 L526.85,197.04 L528.12,196.84 L529.40,196.61 L530.68,196.35 L531.96,196.06 L533.23,195.73 L534.51,195.36 L535.79,194.94 L537.07,194.47 L538.34,193.95 L539.62,193.36 L540.90,192.70 L542.18,191.96 L543.45,191.13 L544.73,190.21 L546.01,189.18 L547.29,188.03 L548.56,186.76 L549.84,185.36 L551.12,183.81 L552.40,182.10 L553.67,180.22 L554.95,178.18 L556.23,175.94 L557.51,173.53 L558.78,170.91 L560.06,168.11 L561.34,165.12 L562.62,161.93 L563.89,158.58 L565.17,155.06 L566.45,151.40 L567.73,147.61 L569.00,143.73 L570.28,139.78 L571.56,135.80 L572.84,131.81 L574.11,127.86 L575.39,123.98 L576.67,120.20 L577.95,116.57 L579.22,113.10 L580.50,109.82 L581.78,106.77 L583.06,103.96 L584.33,101.41 L585.61,99.13 L586.89,97.14 L588.17,95.44 L589.44,94.03 L590.72,92.94 L592.00,92.15 L593.28,91.67 L594.55,91.50 L595.83,91.64 L597.11,92.09 L598.39,92.84 L599.66,93.91 L600.94,95.28 L602.22,96.95 L603.50,98.92 L604.77,101.17 L606.05,103.69 L607.33,106.48 L608.61,109.51 L609.88,112.76 L611.16,116.21 L612.44,119.83 L613.72,123.60 L614.99,127.47 L616.27,131.41 L617.55,135.40 L618.83,139.38 L620.10,143.34 L621.38,147.23 L622.66,151.02 L623.94,154.70 L625.21,158.23 L626.49,161.61 L627.77,164.81 L629.05,167.82 L630.32,170.64 L631.60,173.27 L632.88,175.71 L634.16,177.96 L635.43,180.03 L636.71,181.92 L637.99,183.64 L639.27,185.21 L640.54,186.63 L641.82,187.91 L643.10,189.07 L644.38,190.11 L645.65,191.04 L646.93,191.88 L648.21,192.63 L649.49,193.30 L650.76,193.89 L652.04,194.42 L653.32,194.90 L654.60,195.32 L655.87,195.69"/>
<path class="c" stroke="#8354B1" d="M477.02,198.60 L478.30,198.60 L479.58,198.60 L480.86,198.60 L482.13,198.60 L483.41,198.60 L484.69,198.60 L485.97,198.60 L487.24,198.60 L488.52,198.60 L489.80,198.60 L491.08,198.60 L492.35,198.60 L493.63,198.60 L494.91,198.60 L496.19,198.60 L497.46,198.60 L498.74,198.60 L500.02,198.60 L501.30,198.60 L502.57,198.60 L503.85,198.60 L505.13,198.60 L506.41,198.60 L507.68,198.60 L508.96,198.60 L510.24,198.60 L511.52,198.59 L512.79,198.59 L514.07,198.59 L515.35,198.59 L516.63,198.59 L517.90,198.59 L519.18,198.59 L520.46,198.59 L521.74,198.59 L523.01,198.58 L524.29,198.58 L525.57,198.58 L526.85,198.58 L528.12,198.57 L529.40,198.57 L530.68,198.57 L531.96,198.56 L533.23,198.56 L534.51,198.55 L535.79,198.55 L537.07,198.54 L538.34,198.53 L539.62,198.52 L540.90,198.51 L542.18,198.50 L543.45,198.49 L544.73,198.47 L546.01,198.46 L547.29,198.44 L548.56,198.42 L549.84,198.39 L551.12,198.37 L552.40,198.34 L553.67,198.30 L554.95,198.26 L556.23,198.22 L557.51,198.17 L558.78,198.11 L560.06,198.04 L561.34,197.97 L562.62,197.89 L563.89,197.79 L565.17,197.69 L566.45,197.57 L567.73,197.44 L569.00,197.28 L570.28,197.11 L571.56,196.92 L572.84,196.70 L574.11,196.45 L575.39,196.17 L576.67,195.86 L577.95,195.50 L579.22,195.11 L580.50,194.66 L581.78,194.15 L583.06,193.59 L584.33,192.96 L585.61,192.24 L586.89,191.45 L588.17,190.56 L589.44,189.57 L590.72,188.47 L592.00,187.24 L593.28,185.88 L594.55,184.38 L595.83,182.72 L597.11,180.90 L598.39,178.90 L599.66,176.72 L600.94,174.35 L602.22,171.78 L603.50,169.01 L604.77,166.04 L606.05,162.88 L607.33,159.52 L608.61,155.98 L609.88,152.28 L611.16,148.42 L612.44,144.44 L613.72,140.36 L614.99,136.21 L616.27,132.01 L617.55,127.81 L618.83,123.62 L620.10,119.50 L621.38,115.45 L622.66,111.52 L623.94,107.72 L625.21,104.08 L626.49,100.61 L627.77,97.33 L629.05,94.24 L630.32,91.35 L631.60,88.67 L632.88,86.18 L634.16,83.88 L635.43,81.78 L636.71,79.85 L637.99,78.09 L639.27,76.50 L640.54,75.06 L641.82,73.75 L643.10,72.58 L644.38,71.52 L645.65,70.57 L646.93,69.72 L648.21,68.96 L649.49,68.28 L650.76,67.68 L652.04,67.14 L653.32,66.66 L654.60,66.23 L655.87,65.85"/>
<path class="c" stroke="#7B4439" d="M477.02,195.76 L478.30,195.39 L479.58,194.99 L480.86,194.53 L482.13,194.02 L483.41,193.44 L484.69,192.80 L485.97,192.08 L487.24,191.28 L488.52,190.39 L489.80,189.41 L491.08,188.32 L492.35,187.11 L493.63,185.79 L494.91,184.33 L496.19,182.74 L497.46,181.01 L498.74,179.13 L500.02,177.10 L501.30,174.93 L502.57,172.60 L503.85,170.13 L505.13,167.53 L506.41,164.80 L507.68,161.96 L508.96,159.02 L510.24,156.01 L511.52,152.95 L512.79,149.86 L514.07,146.77 L515.35,143.71 L516.63,140.70 L517.90,137.77 L519.18,134.95 L520.46,132.26 L521.74,129.72 L523.01,127.35 L524.29,125.17 L525.57,123.17 L526.85,121.38 L528.12,119.80 L529.40,118.44 L530.68,117.28 L531.96,116.33 L533.23,115.57 L534.51,115.01 L535.79,114.63 L537.07,114.41 L538.34,114.32 L539.62,114.36 L540.90,114.49 L542.18,114.68 L543.45,114.90 L544.73,115.12 L546.01,115.31 L547.29,115.45 L548.56,115.50 L549.84,115.46 L551.12,115.32 L552.40,115.08 L553.67,114.75 L554.95,114.35 L556.23,113.89 L557.51,113.41 L558.78,112.92 L560.06,112.44 L561.34,112.01 L562.62,111.64 L563.89,111.34 L565.17,111.13 L566.45,111.02 L567.73,111.02 L569.00,111.14 L570.28,111.39 L571.56,111.76 L572.84,112.27 L574.11,112.91 L575.39,113.69 L576.67,114.59 L577.95,115.63 L579.22,116.78 L580.50,118.03 L581.78,119.36 L583.06,120.74 L584.33,122.15 L585.61,123.55 L586.89,124.89 L588.17,126.13 L589.44,127.23 L590.72,128.14 L592.00,128.83 L593.28,129.27 L594.55,129.45 L595.83,129.34 L597.11,128.97 L598.39,128.35 L599.66,127.52 L600.94,126.51 L602.22,125.36 L603.50,124.13 L604.77,122.87 L606.05,121.61 L607.33,120.41 L608.61,119.29 L609.88,118.30 L611.16,117.45 L612.44,116.77 L613.72,116.29 L614.99,116.00 L616.27,115.93 L617.55,116.08 L618.83,116.45 L620.10,117.06 L621.38,117.90 L622.66,118.97 L623.94,120.28 L625.21,121.81 L626.49,123.57 L627.77,125.54 L629.05,127.71 L630.32,130.07 L631.60,132.60 L632.88,135.29 L634.16,138.11 L635.43,141.03 L636.71,144.04 L637.99,147.10 L639.27,150.18 L640.54,153.27 L641.82,156.32 L643.10,159.32 L644.38,162.25 L645.65,165.08 L646.93,167.80 L648.21,170.39 L649.49,172.84 L650.76,175.15 L652.04,177.31 L653.32,179.32 L654.60,181.19 L655.87,182.91"/>
<rect class="b" x="468.4" y="56.45" width="196.1" height="148.05"/>
</g>
<g>
<rect x="59.5" y="213.0" width="196.1" height="23.15" fill="#D1D1D1" stroke="#505050" stroke-width="1.07"/>
<text class="st" x="157.55" y="229.90" text-anchor="middle">Judge 4</text>
<rect x="59.5" y="236.5" width="196.1" height="148.89999999999998" fill="#fff"/>
<path class="c" stroke="#1364A7" d="M68.13,248.85 L69.40,249.57 L70.68,250.38 L71.96,251.29 L73.24,252.29 L74.51,253.42 L75.79,254.66 L77.07,256.04 L78.35,257.57 L79.62,259.25 L80.90,261.10 L82.18,263.13 L83.46,265.34 L84.73,267.74 L86.01,270.34 L87.29,273.14 L88.57,276.14 L89.84,279.33 L91.12,282.72 L92.40,286.28 L93.68,290.01 L94.95,293.89 L96.23,297.89 L97.51,301.98 L98.79,306.14 L100.06,310.34 L101.34,314.54 L102.62,318.71 L103.90,322.83 L105.17,326.85 L106.45,330.77 L107.73,334.54 L109.01,338.15 L110.28,341.59 L111.56,344.84 L112.84,347.89 L114.12,350.75 L115.39,353.40 L116.67,355.86 L117.95,358.12 L119.23,360.20 L120.50,362.10 L121.78,363.83 L123.06,365.40 L124.34,366.82 L125.61,368.10 L126.89,369.25 L128.17,370.29 L129.45,371.22 L130.72,372.06 L132.00,372.80 L133.28,373.47 L134.56,374.07 L135.83,374.59 L137.11,375.07 L138.39,375.49 L139.67,375.86 L140.94,376.19 L142.22,376.48 L143.50,376.74 L144.78,376.97 L146.05,377.18 L147.33,377.36 L148.61,377.52 L149.89,377.66 L151.16,377.79 L152.44,377.90 L153.72,378.00 L155.00,378.09 L156.27,378.16 L157.55,378.23 L158.83,378.29 L160.11,378.34 L161.38,378.39 L162.66,378.43 L163.94,378.47 L165.22,378.50 L166.49,378.53 L167.77,378.56 L169.05,378.58 L170.33,378.60 L171.60,378.62 L172.88,378.63 L174.16,378.65 L175.44,378.66 L176.71,378.67 L177.99,378.68 L179.27,378.69 L180.55,378.69 L181.82,378.70 L183.10,378.71 L184.38,378.71 L185.66,378.72 L186.93,378.72 L188.21,378.72 L189.49,378.73 L190.77,378.73 L192.04,378.73 L193.32,378.73 L194.60,378.74 L195.88,378.74 L197.15,378.74 L198.43,378.74 L199.71,378.74 L200.99,378.74 L202.26,378.74 L203.54,378.74 L204.82,378.74 L206.10,378.75 L207.37,378.75 L208.65,378.75 L209.93,378.75 L211.21,378.75 L212.48,378.75 L213.76,378.75 L215.04,378.75 L216.32,378.75 L217.59,378.75 L218.87,378.75 L220.15,378.75 L221.43,378.75 L222.70,378.75 L223.98,378.75 L225.26,378.75 L226.54,378.75 L227.81,378.75 L229.09,378.75 L230.37,378.75 L231.65,378.75 L232.92,378.75 L234.20,378.75 L235.48,378.75 L236.76,378.75 L238.03,378.75 L239.31,378.75 L240.59,378.75 L241.87,378.75 L243.14,378.75 L244.42,378.75 L245.70,378.75 L246.98,378.75"/>
<path class="c" stroke="#FF6D07" d="M68.13,374.00 L69.40,373.41 L70.68,372.75 L71.96,372.02 L73.24,371.20 L74.51,370.29 L75.79,369.29 L77.07,368.18 L78.35,366.96 L79.62,365.62 L80.90,364.16 L82.18,362.57 L83.46,360.85 L84.73,359.00 L86.01,357.02 L87.29,354.92 L88.57,352.69 L89.84,350.37 L91.12,347.95 L92.40,345.46 L93.68,342.93 L94.95,340.39 L96.23,337.87 L97.51,335.40 L98.79,333.03 L100.06,330.79 L101.34,328.73 L102.62,326.89 L103.90,325.30 L105.17,324.00 L106.45,323.02 L107.73,322.37 L109.01,322.08 L110.28,322.14 L111.56,322.57 L112.84,323.33 L114.12,324.43 L115.39,325.84 L116.67,327.52 L117.95,329.45 L119.23,331.58 L120.50,333.87 L121.78,336.28 L123.06,338.77 L124.34,341.31 L125.61,343.85 L126.89,346.36 L128.17,348.83 L129.45,351.22 L130.72,353.51 L132.00,355.69 L133.28,357.75 L134.56,359.68 L135.83,361.49 L137.11,363.16 L138.39,364.70 L139.67,366.12 L140.94,367.41 L142.22,368.59 L143.50,369.66 L144.78,370.63 L146.05,371.50 L147.33,372.29 L148.61,373.00 L149.89,373.63 L151.16,374.20 L152.44,374.71 L153.72,375.16 L155.00,375.57 L156.27,375.93 L157.55,376.25 L158.83,376.53 L160.11,376.79 L161.38,377.01 L162.66,377.21 L163.94,377.39 L165.22,377.54 L166.49,377.68 L167.77,377.81 L169.05,377.92 L170.33,378.01 L171.60,378.10 L172.88,378.17 L174.16,378.24 L175.44,378.30 L176.71,378.35 L177.99,378.40 L179.27,378.44 L180.55,378.48 L181.82,378.51 L183.10,378.54 L184.38,378.56 L185.66,378.58 L186.93,378.60 L188.21,378.62 L189.49,378.63 L190.77,378.65 L192.04,378.66 L193.32,378.67 L194.60,378.68 L195.88,378.69 L197.15,378.70 L198.43,378.70 L199.71,378.71 L200.99,378.71 L202.26,378.72 L203.54,378.72 L204.82,378.72 L206.10,378.73 L207.37,378.73 L208.65,378.73 L209.93,378.73 L211.21,378.74 L212.48,378.74 L213.76,378.74 L215.04,378.74 L216.32,378.74 L217.59,378.74 L218.87,378.74 L220.15,378.74 L221.43,378.74 L222.70,378.75 L223.98,378.75 L225.26,378.75 L226.54,378.75 L227.81,378.75 L229.09,378.75 L230.37,378.75 L231.65,378.75 L232.92,378.75 L234.20,378.75 L235.48,378.75 L236.76,378.75 L238.03,378.75 L239.31,378.75 L240.59,378.75 L241.87,378.75 L243.14,378.75 L244.42,378.75 L245.70,378.75 L246.98,378.75"/>
<path class="c" stroke="#1E901E" d="M68.13,377.77 L69.40,377.64 L70.68,377.49 L71.96,377.33 L73.24,377.14 L74.51,376.93 L75.79,376.70 L77.07,376.43 L78.35,376.13 L79.62,375.80 L80.90,375.42 L82.18,374.99 L83.46,374.51 L84.73,373.97 L86.01,373.36 L87.29,372.68 L88.57,371.93 L89.84,371.08 L91.12,370.13 L92.40,369.08 L93.68,367.91 L94.95,366.61 L96.23,365.18 L97.51,363.60 L98.79,361.86 L100.06,359.95 L101.34,357.87 L102.62,355.61 L103.90,353.17 L105.17,350.53 L106.45,347.70 L107.73,344.69 L109.01,341.51 L110.28,338.15 L111.56,334.65 L112.84,331.01 L114.12,327.27 L115.39,323.45 L116.67,319.58 L117.95,315.70 L119.23,311.84 L120.50,308.05 L121.78,304.34 L123.06,300.77 L124.34,297.37 L125.61,294.16 L126.89,291.19 L128.17,288.46 L129.45,286.01 L130.72,283.85 L132.00,282.00 L133.28,280.48 L134.56,279.28 L135.83,278.42 L137.11,277.90 L138.39,277.73 L139.67,277.90 L140.94,278.42 L142.22,279.28 L143.50,280.48 L144.78,282.00 L146.05,283.85 L147.33,286.01 L148.61,288.46 L149.89,291.19 L151.16,294.16 L152.44,297.37 L153.72,300.77 L155.00,304.34 L156.27,308.05 L157.55,311.84 L158.83,315.70 L160.11,319.58 L161.38,323.45 L162.66,327.27 L163.94,331.01 L165.22,334.65 L166.49,338.15 L167.77,341.51 L169.05,344.69 L170.33,347.70 L171.60,350.53 L172.88,353.17 L174.16,355.61 L175.44,357.87 L176.71,359.95 L177.99,361.86 L179.27,363.60 L180.55,365.18 L181.82,366.61 L183.10,367.91 L184.38,369.08 L185.66,370.13 L186.93,371.08 L188.21,371.93 L189.49,372.68 L190.77,373.36 L192.04,373.97 L193.32,374.51 L194.60,374.99 L195.88,375.42 L197.15,375.80 L198.43,376.13 L199.71,376.43 L200.99,376.70 L202.26,376.93 L203.54,377.14 L204.82,377.33 L206.10,377.49 L207.37,377.64 L208.65,377.77 L209.93,377.88 L211.21,377.98 L212.48,378.07 L213.76,378.15 L215.04,378.22 L216.32,378.28 L217.59,378.34 L218.87,378.38 L220.15,378.43 L221.43,378.46 L222.70,378.50 L223.98,378.53 L225.26,378.55 L226.54,378.58 L227.81,378.60 L229.09,378.61 L230.37,378.63 L231.65,378.64 L232.92,378.66 L234.20,378.67 L235.48,378.68 L236.76,378.69 L238.03,378.69 L239.31,378.70 L240.59,378.71 L241.87,378.71 L243.14,378.72 L244.42,378.72 L245.70,378.72 L246.98,378.73"/>
<path class="c" stroke="#CE1A1B" d="M68.13,378.73 L69.40,378.73 L70.68,378.72 L71.96,378.72 L73.24,378.72 L74.51,378.71 L75.79,378.71 L77.07,378.70 L78.35,378.69 L79.62,378.69 L80.90,378.68 L82.18,378.67 L83.46,378.66 L84.73,378.64 L86.01,378.63 L87.29,378.61 L88.57,378.60 L89.84,378.58 L91.12,378.55 L92.40,378.53 L93.68,378.50 L94.95,378.47 L96.23,378.43 L97.51,378.39 L98.79,378.34 L100.06,378.28 L101.34,378.22 L102.62,378.15 L103.90,378.07 L105.17,377.98 L106.45,377.88 L107.73,377.77 L109.01,377.64 L110.28,377.50 L111.56,377.33 L112.84,377.15 L114.12,376.94 L115.39,376.71 L116.67,376.44 L117.95,376.14 L119.23,375.81 L120.50,375.43 L121.78,375.00 L123.06,374.53 L124.34,373.99 L125.61,373.39 L126.89,372.71 L128.17,371.96 L129.45,371.11 L130.72,370.17 L132.00,369.12 L133.28,367.96 L134.56,366.67 L135.83,365.24 L137.11,363.67 L138.39,361.94 L139.67,360.04 L140.94,357.98 L142.22,355.73 L143.50,353.30 L144.78,350.68 L146.05,347.87 L147.33,344.88 L148.61,341.72 L149.89,338.39 L151.16,334.92 L152.44,331.32 L153.72,327.62 L155.00,323.84 L156.27,320.02 L157.55,316.20 L158.83,312.40 L160.11,308.67 L161.38,305.05 L162.66,301.56 L163.94,298.26 L165.22,295.16 L166.49,292.30 L167.77,289.70 L169.05,287.40 L170.33,285.40 L171.60,283.72 L172.88,282.38 L174.16,281.38 L175.44,280.74 L176.71,280.45 L177.99,280.52 L179.27,280.95 L180.55,281.74 L181.82,282.87 L183.10,284.35 L184.38,286.16 L185.66,288.28 L186.93,290.71 L188.21,293.41 L189.49,296.37 L190.77,299.56 L192.04,302.94 L193.32,306.48 L194.60,310.15 L195.88,313.91 L197.15,317.73 L198.43,321.55 L199.71,325.36 L200.99,329.11 L202.26,332.77 L203.54,336.33 L204.82,339.74 L206.10,343.01 L207.37,346.10 L208.65,349.02 L209.93,351.75 L211.21,354.29 L212.48,356.65 L213.76,358.83 L215.04,360.82 L216.32,362.65 L217.59,364.32 L218.87,365.83 L220.15,367.20 L221.43,368.44 L222.70,369.56 L223.98,370.56 L225.26,371.46 L226.54,372.27 L227.81,372.99 L229.09,373.64 L230.37,374.21 L231.65,374.72 L232.92,375.18 L234.20,375.59 L235.48,375.95 L236.76,376.27 L238.03,376.55 L239.31,376.80 L240.59,377.03 L241.87,377.23 L243.14,377.40 L244.42,377.56 L245.70,377.70 L246.98,377.82"/>
<path class="c" stroke="#8354B1" d="M68.13,378.75 L69.40,378.75 L70.68,378.75 L71.96,378.75 L73.24,378.75 L74.51,378.75 L75.79,378.75 L77.07,378.75 L78.35,378.75 L79.62,378.75 L80.90,378.75 L82.18,378.75 L83.46,378.75 L84.73,378.75 L86.01,378.75 L87.29,378.75 L88.57,378.75 L89.84,378.75 L91.12,378.74 L92.40,378.74 L93.68,378.74 L94.95,378.74 L96.23,378.74 L97.51,378.74 L98.79,378.74 L100.06,378.74 L101.34,378.74 L102.62,378.73 L103.90,378.73 L105.17,378.73 L106.45,378.73 L107.73,378.72 L109.01,378.72 L110.28,378.72 L111.56,378.71 L112.84,378.71 L114.12,378.70 L115.39,378.70 L116.67,378.69 L117.95,378.68 L119.23,378.67 L120.50,378.66 L121.78,378.65 L123.06,378.64 L124.34,378.62 L125.61,378.60 L126.89,378.58 L128.17,378.56 L129.45,378.54 L130.72,378.51 L132.00,378.48 L133.28,378.44 L134.56,378.40 L135.83,378.36 L137.11,378.30 L138.39,378.25 L139.67,378.18 L140.94,378.11 L142.22,378.02 L143.50,377.93 L144.78,377.82 L146.05,377.69 L147.33,377.56 L148.61,377.40 L149.89,377.22 L151.16,377.03 L152.44,376.80 L153.72,376.55 L155.00,376.26 L156.27,375.94 L157.55,375.58 L158.83,375.17 L160.11,374.71 L161.38,374.20 L162.66,373.62 L163.94,372.97 L165.22,372.25 L166.49,371.43 L167.77,370.53 L169.05,369.51 L170.33,368.39 L171.60,367.14 L172.88,365.75 L174.16,364.22 L175.44,362.53 L176.71,360.67 L177.99,358.64 L179.27,356.42 L180.55,354.01 L181.82,351.40 L183.10,348.60 L184.38,345.59 L185.66,342.39 L186.93,338.99 L188.21,335.42 L189.49,331.68 L190.77,327.80 L192.04,323.80 L193.32,319.71 L194.60,315.54 L195.88,311.35 L197.15,307.14 L198.43,302.97 L199.71,298.86 L200.99,294.84 L202.26,290.93 L203.54,287.17 L204.82,283.56 L206.10,280.13 L207.37,276.89 L208.65,273.84 L209.93,270.99 L211.21,268.34 L212.48,265.89 L213.76,263.64 L215.04,261.57 L216.32,259.68 L217.59,257.96 L218.87,256.39 L220.15,254.98 L221.43,253.70 L222.70,252.55 L223.98,251.52 L225.26,250.59 L226.54,249.76 L227.81,249.02 L229.09,248.35 L230.37,247.76 L231.65,247.24 L232.92,246.77 L234.20,246.35 L235.48,245.98 L236.76,245.65 L238.03,245.36 L239.31,245.10 L240.59,244.87 L241.87,244.66 L243.14,244.48 L244.42,244.32 L245.70,244.18 L246.98,244.06"/>
<path class="c" stroke="#7B4439" d="M68.13,351.64 L69.40,349.11 L70.68,346.44 L71.96,343.66 L73.24,340.77 L74.51,337.79 L75.79,334.75 L77.07,331.67 L78.35,328.57 L79.62,325.48 L80.90,322.43 L82.18,319.44 L83.46,316.54 L84.73,313.75 L86.01,311.09 L87.29,308.59 L88.57,306.25 L89.84,304.10 L91.12,302.12 L92.40,300.34 L93.68,298.75 L94.95,297.35 L96.23,296.14 L97.51,295.10 L98.79,294.23 L100.06,293.51 L101.34,292.93 L102.62,292.47 L103.90,292.12 L105.17,291.86 L106.45,291.67 L107.73,291.55 L109.01,291.49 L110.28,291.48 L111.56,291.51 L112.84,291.60 L114.12,291.75 L115.39,291.96 L116.67,292.25 L117.95,292.63 L119.23,293.11 L120.50,293.68 L121.78,294.36 L123.06,295.15 L124.34,296.03 L125.61,296.99 L126.89,298.02 L128.17,299.09 L129.45,300.16 L130.72,301.21 L132.00,302.20 L133.28,303.07 L134.56,303.81 L135.83,304.36 L137.11,304.71 L138.39,304.84 L139.67,304.74 L140.94,304.42 L142.22,303.91 L143.50,303.22 L144.78,302.39 L146.05,301.48 L147.33,300.51 L148.61,299.53 L149.89,298.59 L151.16,297.71 L152.44,296.93 L153.72,296.28 L155.00,295.76 L156.27,295.41 L157.55,295.21 L158.83,295.19 L160.11,295.33 L161.38,295.63 L162.66,296.08 L163.94,296.67 L165.22,297.37 L166.49,298.15 L167.77,298.98 L169.05,299.84 L170.33,300.67 L171.60,301.43 L172.88,302.09 L174.16,302.61 L175.44,302.97 L176.71,303.13 L177.99,303.09 L179.27,302.86 L180.55,302.45 L181.82,301.87 L183.10,301.18 L184.38,300.40 L185.66,299.57 L186.93,298.75 L188.21,297.96 L189.49,297.25 L190.77,296.64 L192.04,296.17 L193.32,295.86 L194.60,295.73 L195.88,295.79 L197.15,296.05 L198.43,296.53 L199.71,297.22 L200.99,298.14 L202.26,299.29 L203.54,300.66 L204.82,302.26 L206.10,304.07 L207.37,306.09 L208.65,308.31 L209.93,310.71 L211.21,313.29 L212.48,316.00 L213.76,318.85 L215.04,321.79 L216.32,324.81 L217.59,327.88 L218.87,330.96 L220.15,334.04 L221.43,337.09 L222.70,340.08 L223.98,342.99 L225.26,345.79 L226.54,348.49 L227.81,351.05 L229.09,353.47 L230.37,355.75 L231.65,357.88 L232.92,359.87 L234.20,361.70 L235.48,363.39 L236.76,364.94 L238.03,366.35 L239.31,367.64 L240.59,368.81 L241.87,369.87 L243.14,370.82 L244.42,371.68 L245.70,372.46 L246.98,373.15"/>
<rect class="b" x="59.5" y="236.85" width="196.1" height="148.55"/>
<line class="tk" x1="55.83" x2="59.5" y1="378.75" y2="378.75"/>
<text class="ax" x="52.20" y="383.65" text-anchor="end">0.00</text>
<line class="tk" x1="55.83" x2="59.5" y1="344.84" y2="344.84"/>
<text class="ax" x="52.20" y="349.74" text-anchor="end">0.25</text>
<line class="tk" x1="55.83" x2="59.5" y1="310.93" y2="310.93"/>
<text class="ax" x="52.20" y="315.82" text-anchor="end">0.50</text>
<line class="tk" x1="55.83" x2="59.5" y1="277.01" y2="277.01"/>
<text class="ax" x="52.20" y="281.91" text-anchor="end">0.75</text>
<line class="tk" x1="55.83" x2="59.5" y1="243.10" y2="243.10"/>
<text class="ax" x="52.20" y="248.00" text-anchor="end">1.00</text>
<line class="tk" x1="80.90" x2="80.90" y1="385.4" y2="389.07"/>
<text class="ax" x="80.90" y="402.00" text-anchor="middle">-3</text>
<line class="tk" x1="106.45" x2="106.45" y1="385.4" y2="389.07"/>
<text class="ax" x="106.45" y="402.00" text-anchor="middle">-2</text>
<line class="tk" x1="132.00" x2="132.00" y1="385.4" y2="389.07"/>
<text class="ax" x="132.00" y="402.00" text-anchor="middle">-1</text>
<line class="tk" x1="157.55" x2="157.55" y1="385.4" y2="389.07"/>
<text class="ax" x="157.55" y="402.00" text-anchor="middle">0</text>
<line class="tk" x1="183.10" x2="183.10" y1="385.4" y2="389.07"/>
<text class="ax" x="183.10" y="402.00" text-anchor="middle">1</text>
<line class="tk" x1="208.65" x2="208.65" y1="385.4" y2="389.07"/>
<text class="ax" x="208.65" y="402.00" text-anchor="middle">2</text>
<line class="tk" x1="234.20" x2="234.20" y1="385.4" y2="389.07"/>
<text class="ax" x="234.20" y="402.00" text-anchor="middle">3</text>
</g>
<g>
<rect x="263.7" y="213.0" width="196.1" height="23.15" fill="#D1D1D1" stroke="#505050" stroke-width="1.07"/>
<text class="st" x="361.75" y="229.90" text-anchor="middle">Judge 5</text>
<rect x="263.7" y="236.5" width="196.1" height="148.89999999999998" fill="#fff"/>
<path class="c" stroke="#1364A7" d="M272.32,253.34 L273.60,254.58 L274.88,255.95 L276.16,257.47 L277.44,259.14 L278.71,260.98 L279.99,263.00 L281.27,265.20 L282.55,267.59 L283.82,270.18 L285.10,272.96 L286.38,275.95 L287.65,279.14 L288.93,282.51 L290.21,286.07 L291.49,289.79 L292.76,293.65 L294.04,297.64 L295.32,301.73 L296.60,305.89 L297.88,310.08 L299.15,314.29 L300.43,318.46 L301.71,322.58 L302.99,326.62 L304.26,330.53 L305.54,334.32 L306.82,337.94 L308.10,341.39 L309.37,344.65 L310.65,347.72 L311.93,350.58 L313.20,353.25 L314.48,355.72 L315.76,357.99 L317.04,360.08 L318.31,361.99 L319.59,363.73 L320.87,365.31 L322.15,366.74 L323.43,368.03 L324.70,369.19 L325.98,370.23 L327.26,371.17 L328.54,372.01 L329.81,372.76 L331.09,373.43 L332.37,374.03 L333.64,374.56 L334.92,375.04 L336.20,375.46 L337.48,375.84 L338.75,376.17 L340.03,376.47 L341.31,376.73 L342.59,376.96 L343.87,377.17 L345.14,377.35 L346.42,377.51 L347.70,377.65 L348.98,377.78 L350.25,377.89 L351.53,377.99 L352.81,378.08 L354.08,378.16 L355.36,378.23 L356.64,378.29 L357.92,378.34 L359.19,378.39 L360.47,378.43 L361.75,378.47 L363.03,378.50 L364.31,378.53 L365.58,378.56 L366.86,378.58 L368.14,378.60 L369.42,378.62 L370.69,378.63 L371.97,378.65 L373.25,378.66 L374.52,378.67 L375.80,378.68 L377.08,378.69 L378.36,378.69 L379.63,378.70 L380.91,378.71 L382.19,378.71 L383.47,378.72 L384.75,378.72 L386.02,378.72 L387.30,378.73 L388.58,378.73 L389.86,378.73 L391.13,378.73 L392.41,378.74 L393.69,378.74 L394.97,378.74 L396.24,378.74 L397.52,378.74 L398.80,378.74 L400.07,378.74 L401.35,378.74 L402.63,378.74 L403.91,378.75 L405.19,378.75 L406.46,378.75 L407.74,378.75 L409.02,378.75 L410.30,378.75 L411.57,378.75 L412.85,378.75 L414.13,378.75 L415.41,378.75 L416.68,378.75 L417.96,378.75 L419.24,378.75 L420.52,378.75 L421.79,378.75 L423.07,378.75 L424.35,378.75 L425.62,378.75 L426.90,378.75 L428.18,378.75 L429.46,378.75 L430.74,378.75 L432.01,378.75 L433.29,378.75 L434.57,378.75 L435.85,378.75 L437.12,378.75 L438.40,378.75 L439.68,378.75 L440.96,378.75 L442.23,378.75 L443.51,378.75 L444.79,378.75 L446.07,378.75 L447.34,378.75 L448.62,378.75 L449.90,378.75 L451.18,378.75"/>
<path class="c" stroke="#FF6D07" d="M272.32,368.55 L273.60,367.32 L274.88,365.96 L276.16,364.45 L277.44,362.78 L278.71,360.96 L279.99,358.95 L281.27,356.77 L282.55,354.39 L283.82,351.82 L285.10,349.05 L286.38,346.09 L287.65,342.93 L288.93,339.58 L290.21,336.06 L291.49,332.38 L292.76,328.55 L294.04,324.61 L295.32,320.57 L296.60,316.47 L297.88,312.34 L299.15,308.22 L300.43,304.13 L301.71,300.10 L302.99,296.18 L304.26,292.38 L305.54,288.74 L306.82,285.28 L308.10,282.01 L309.37,278.95 L310.65,276.11 L311.93,273.50 L313.20,271.12 L314.48,268.97 L315.76,267.07 L317.04,265.39 L318.31,263.95 L319.59,262.73 L320.87,261.74 L322.15,260.96 L323.43,260.41 L324.70,260.07 L325.98,259.94 L327.26,260.02 L328.54,260.32 L329.81,260.83 L331.09,261.56 L332.37,262.51 L333.64,263.68 L334.92,265.08 L336.20,266.71 L337.48,268.57 L338.75,270.67 L340.03,273.00 L341.31,275.57 L342.59,278.36 L343.87,281.38 L345.14,284.61 L346.42,288.04 L347.70,291.64 L348.98,295.41 L350.25,299.31 L351.53,303.31 L352.81,307.39 L354.08,311.52 L355.36,315.65 L356.64,319.75 L357.92,323.81 L359.19,327.77 L360.47,331.62 L361.75,335.33 L363.03,338.89 L364.31,342.27 L365.58,345.47 L366.86,348.48 L368.14,351.28 L369.42,353.89 L370.69,356.31 L371.97,358.53 L373.25,360.57 L374.52,362.43 L375.80,364.13 L377.08,365.67 L378.36,367.06 L379.63,368.32 L380.91,369.45 L382.19,370.47 L383.47,371.38 L384.75,372.20 L386.02,372.93 L387.30,373.58 L388.58,374.16 L389.86,374.68 L391.13,375.14 L392.41,375.55 L393.69,375.92 L394.97,376.24 L396.24,376.53 L397.52,376.79 L398.80,377.01 L400.07,377.21 L401.35,377.39 L402.63,377.55 L403.91,377.69 L405.19,377.81 L406.46,377.92 L407.74,378.01 L409.02,378.10 L410.30,378.18 L411.57,378.24 L412.85,378.30 L414.13,378.35 L415.41,378.40 L416.68,378.44 L417.96,378.48 L419.24,378.51 L420.52,378.54 L421.79,378.56 L423.07,378.58 L424.35,378.60 L425.62,378.62 L426.90,378.64 L428.18,378.65 L429.46,378.66 L430.74,378.67 L432.01,378.68 L433.29,378.69 L434.57,378.70 L435.85,378.70 L437.12,378.71 L438.40,378.71 L439.68,378.72 L440.96,378.72 L442.23,378.72 L443.51,378.73 L444.79,378.73 L446.07,378.73 L447.34,378.73 L448.62,378.74 L449.90,378.74 L451.18,378.74"/>
<path class="c" stroke="#1E901E" d="M272.32,378.71 L273.60,378.71 L274.88,378.70 L276.16,378.70 L277.44,378.69 L278.71,378.68 L279.99,378.67 L281.27,378.66 L282.55,378.65 L283.82,378.64 L285.10,378.62 L286.38,378.60 L287.65,378.58 L288.93,378.56 L290.21,378.54 L291.49,378.51 L292.76,378.48 L294.04,378.44 L295.32,378.40 L296.60,378.36 L297.88,378.30 L299.15,378.25 L300.43,378.18 L301.71,378.10 L302.99,378.02 L304.26,377.92 L305.54,377.82 L306.82,377.69 L308.10,377.56 L309.37,377.40 L310.65,377.23 L311.93,377.03 L313.20,376.81 L314.48,376.56 L315.76,376.28 L317.04,375.96 L318.31,375.61 L319.59,375.21 L320.87,374.77 L322.15,374.27 L323.43,373.71 L324.70,373.09 L325.98,372.40 L327.26,371.64 L328.54,370.79 L329.81,369.85 L331.09,368.81 L332.37,367.68 L333.64,366.44 L334.92,365.08 L336.20,363.62 L337.48,362.04 L338.75,360.34 L340.03,358.54 L341.31,356.63 L342.59,354.62 L343.87,352.54 L345.14,350.39 L346.42,348.20 L347.70,346.00 L348.98,343.81 L350.25,341.67 L351.53,339.62 L352.81,337.68 L354.08,335.91 L355.36,334.34 L356.64,333.00 L357.92,331.93 L359.19,331.14 L360.47,330.66 L361.75,330.49 L363.03,330.66 L364.31,331.14 L365.58,331.93 L366.86,333.00 L368.14,334.34 L369.42,335.91 L370.69,337.68 L371.97,339.62 L373.25,341.67 L374.52,343.81 L375.80,346.00 L377.08,348.20 L378.36,350.39 L379.63,352.54 L380.91,354.62 L382.19,356.63 L383.47,358.54 L384.75,360.34 L386.02,362.04 L387.30,363.62 L388.58,365.08 L389.86,366.44 L391.13,367.68 L392.41,368.81 L393.69,369.85 L394.97,370.79 L396.24,371.64 L397.52,372.40 L398.80,373.09 L400.07,373.71 L401.35,374.27 L402.63,374.77 L403.91,375.21 L405.19,375.61 L406.46,375.96 L407.74,376.28 L409.02,376.56 L410.30,376.81 L411.57,377.03 L412.85,377.23 L414.13,377.40 L415.41,377.56 L416.68,377.69 L417.96,377.82 L419.24,377.92 L420.52,378.02 L421.79,378.10 L423.07,378.18 L424.35,378.25 L425.62,378.30 L426.90,378.36 L428.18,378.40 L429.46,378.44 L430.74,378.48 L432.01,378.51 L433.29,378.54 L434.57,378.56 L435.85,378.58 L437.12,378.60 L438.40,378.62 L439.68,378.64 L440.96,378.65 L442.23,378.66 L443.51,378.67 L444.79,378.68 L446.07,378.69 L447.34,378.70 L448.62,378.70 L449.90,378.71 L451.18,378.71"/>
<path class="c" stroke="#CE1A1B" d="M272.32,378.74 L273.60,378.74 L274.88,378.74 L276.16,378.74 L277.44,378.73 L278.71,378.73 L279.99,378.73 L281.27,378.73 L282.55,378.72 L283.82,378.72 L285.10,378.71 L286.38,378.71 L287.65,378.70 L288.93,378.70 L290.21,378.69 L291.49,378.68 L292.76,378.68 L294.04,378.67 L295.32,378.65 L296.60,378.64 L297.88,378.63 L299.15,378.61 L300.43,378.59 L301.71,378.57 L302.99,378.55 L304.26,378.52 L305.54,378.49 L306.82,378.46 L308.10,378.42 L309.37,378.38 L310.65,378.33 L311.93,378.28 L313.20,378.21 L314.48,378.14 L315.76,378.06 L317.04,377.97 L318.31,377.87 L319.59,377.76 L320.87,377.63 L322.15,377.48 L323.43,377.31 L324.70,377.13 L325.98,376.91 L327.26,376.68 L328.54,376.41 L329.81,376.11 L331.09,375.77 L332.37,375.38 L333.64,374.95 L334.92,374.47 L336.20,373.93 L337.48,373.32 L338.75,372.64 L340.03,371.88 L341.31,371.04 L342.59,370.09 L343.87,369.04 L345.14,367.88 L346.42,366.60 L347.70,365.18 L348.98,363.62 L350.25,361.91 L351.53,360.05 L352.81,358.02 L354.08,355.83 L355.36,353.47 L356.64,350.95 L357.92,348.26 L359.19,345.42 L360.47,342.44 L361.75,339.34 L363.03,336.13 L364.31,332.85 L365.58,329.53 L366.86,326.19 L368.14,322.88 L369.42,319.64 L370.69,316.51 L371.97,313.53 L373.25,310.74 L374.52,308.19 L375.80,305.90 L377.08,303.92 L378.36,302.28 L379.63,300.99 L380.91,300.08 L382.19,299.56 L383.47,299.44 L384.75,299.72 L386.02,300.40 L387.30,301.46 L388.58,302.90 L389.86,304.68 L391.13,306.78 L392.41,309.18 L393.69,311.83 L394.97,314.70 L396.24,317.75 L397.52,320.93 L398.80,324.20 L400.07,327.53 L401.35,330.86 L402.63,334.17 L403.91,337.43 L405.19,340.59 L406.46,343.65 L407.74,346.58 L409.02,349.36 L410.30,351.98 L411.57,354.44 L412.85,356.73 L414.13,358.85 L415.41,360.81 L416.68,362.61 L417.96,364.26 L419.24,365.76 L420.52,367.13 L421.79,368.36 L423.07,369.48 L424.35,370.48 L425.62,371.38 L426.90,372.20 L428.18,372.92 L429.46,373.57 L430.74,374.15 L432.01,374.67 L433.29,375.13 L434.57,375.54 L435.85,375.91 L437.12,376.23 L438.40,376.52 L439.68,376.78 L440.96,377.00 L442.23,377.20 L443.51,377.38 L444.79,377.54 L446.07,377.68 L447.34,377.80 L448.62,377.91 L449.90,378.01 L451.18,378.10"/>
<path class="c" stroke="#8354B1" d="M272.32,378.75 L273.60,378.75 L274.88,378.75 L276.16,378.75 L277.44,378.75 L278.71,378.75 L279.99,378.75 L281.27,378.75 L282.55,378.75 L283.82,378.75 L285.10,378.75 L286.38,378.75 L287.65,378.75 L288.93,378.75 L290.21,378.75 L291.49,378.75 L292.76,378.74 L294.04,378.74 L295.32,378.74 L296.60,378.74 L297.88,378.74 L299.15,378.74 L300.43,378.74 L301.71,378.74 L302.99,378.74 L304.26,378.73 L305.54,378.73 L306.82,378.73 L308.10,378.73 L309.37,378.72 L310.65,378.72 L311.93,378.71 L313.20,378.71 L314.48,378.70 L315.76,378.70 L317.04,378.69 L318.31,378.68 L319.59,378.68 L320.87,378.67 L322.15,378.66 L323.43,378.64 L324.70,378.63 L325.98,378.61 L327.26,378.59 L328.54,378.57 L329.81,378.55 L331.09,378.52 L332.37,378.49 L333.64,378.46 L334.92,378.42 L336.20,378.38 L337.48,378.33 L338.75,378.28 L340.03,378.21 L341.31,378.14 L342.59,378.06 L343.87,377.97 L345.14,377.87 L346.42,377.76 L347.70,377.63 L348.98,377.48 L350.25,377.32 L351.53,377.13 L352.81,376.92 L354.08,376.68 L355.36,376.41 L356.64,376.11 L357.92,375.77 L359.19,375.38 L360.47,374.95 L361.75,374.46 L363.03,373.92 L364.31,373.30 L365.58,372.62 L366.86,371.85 L368.14,370.99 L369.42,370.03 L370.69,368.97 L371.97,367.78 L373.25,366.46 L374.52,365.00 L375.80,363.39 L377.08,361.62 L378.36,359.68 L379.63,357.55 L380.91,355.24 L382.19,352.73 L383.47,350.03 L384.75,347.12 L386.02,344.01 L387.30,340.71 L388.58,337.23 L389.86,333.57 L391.13,329.76 L392.41,325.82 L393.69,321.76 L394.97,317.63 L396.24,313.45 L397.52,309.24 L398.80,305.05 L400.07,300.91 L401.35,296.84 L402.63,292.87 L403.91,289.03 L405.19,285.34 L406.46,281.82 L407.74,278.48 L409.02,275.34 L410.30,272.39 L411.57,269.64 L412.85,267.09 L414.13,264.74 L415.41,262.58 L416.68,260.60 L417.96,258.80 L419.24,257.16 L420.52,255.67 L421.79,254.32 L423.07,253.11 L424.35,252.02 L425.62,251.04 L426.90,250.16 L428.18,249.38 L429.46,248.68 L430.74,248.05 L432.01,247.49 L433.29,246.99 L434.57,246.55 L435.85,246.16 L437.12,245.81 L438.40,245.50 L439.68,245.22 L440.96,244.98 L442.23,244.76 L443.51,244.57 L444.79,244.40 L446.07,244.25 L447.34,244.12 L448.62,244.00 L449.90,243.90 L451.18,243.80"/>
<path class="c" stroke="#7B4439" d="M272.32,338.00 L273.60,334.97 L274.88,331.90 L276.16,328.81 L277.44,325.74 L278.71,322.71 L279.99,319.74 L281.27,316.87 L282.55,314.12 L283.82,311.51 L285.10,309.07 L286.38,306.81 L287.65,304.74 L288.93,302.89 L290.21,301.26 L291.49,299.86 L292.76,298.69 L294.04,297.76 L295.32,297.08 L296.60,296.63 L297.88,296.43 L299.15,296.47 L300.43,296.74 L301.71,297.25 L302.99,297.99 L304.26,298.95 L305.54,300.12 L306.82,301.48 L308.10,303.03 L309.37,304.73 L310.65,306.57 L311.93,308.50 L313.20,310.51 L314.48,312.54 L315.76,314.55 L317.04,316.49 L318.31,318.32 L319.59,319.97 L320.87,321.41 L322.15,322.59 L323.43,323.48 L324.70,324.03 L325.98,324.24 L327.26,324.09 L328.54,323.59 L329.81,322.77 L331.09,321.63 L332.37,320.22 L333.64,318.58 L334.92,316.75 L336.20,314.79 L337.48,312.75 L338.75,310.66 L340.03,308.58 L341.31,306.53 L342.59,304.56 L343.87,302.69 L345.14,300.95 L346.42,299.34 L347.70,297.88 L348.98,296.57 L350.25,295.42 L351.53,294.43 L352.81,293.57 L354.08,292.86 L355.36,292.27 L356.64,291.80 L357.92,291.44 L359.19,291.17 L360.47,290.97 L361.75,290.86 L363.03,290.81 L364.31,290.83 L365.58,290.91 L366.86,291.05 L368.14,291.24 L369.42,291.50 L370.69,291.80 L371.97,292.16 L373.25,292.54 L374.52,292.96 L375.80,293.37 L377.08,293.78 L378.36,294.15 L379.63,294.47 L380.91,294.73 L382.19,294.91 L383.47,295.00 L384.75,295.01 L386.02,294.94 L387.30,294.82 L388.58,294.66 L389.86,294.50 L391.13,294.36 L392.41,294.27 L393.69,294.26 L394.97,294.36 L396.24,294.59 L397.52,294.97 L398.80,295.52 L400.07,296.25 L401.35,297.18 L402.63,298.31 L403.91,299.65 L405.19,301.19 L406.46,302.95 L407.74,304.90 L409.02,307.06 L410.30,309.40 L411.57,311.91 L412.85,314.57 L414.13,317.36 L415.41,320.27 L416.68,323.27 L417.96,326.32 L419.24,329.40 L420.52,332.50 L421.79,335.56 L423.07,338.59 L424.35,341.54 L425.62,344.40 L426.90,347.15 L428.18,349.78 L429.46,352.28 L430.74,354.63 L432.01,356.84 L433.29,358.89 L434.57,360.80 L435.85,362.56 L437.12,364.18 L438.40,365.66 L439.68,367.01 L440.96,368.24 L442.23,369.35 L443.51,370.36 L444.79,371.26 L446.07,372.08 L447.34,372.81 L448.62,373.47 L449.90,374.06 L451.18,374.58"/>
<rect class="b" x="263.7" y="236.85" width="196.1" height="148.55"/>
<line class="tk" x1="285.10" x2="285.10" y1="385.4" y2="389.07"/>
<text class="ax" x="285.10" y="402.00" text-anchor="middle">-3</text>
<line class="tk" x1="310.65" x2="310.65" y1="385.4" y2="389.07"/>
<text class="ax" x="310.65" y="402.00" text-anchor="middle">-2</text>
<line class="tk" x1="336.20" x2="336.20" y1="385.4" y2="389.07"/>
<text class="ax" x="336.20" y="402.00" text-anchor="middle">-1</text>
<line class="tk" x1="361.75" x2="361.75" y1="385.4" y2="389.07"/>
<text class="ax" x="361.75" y="402.00" text-anchor="middle">0</text>
<line class="tk" x1="387.30" x2="387.30" y1="385.4" y2="389.07"/>
<text class="ax" x="387.30" y="402.00" text-anchor="middle">1</text>
<line class="tk" x1="412.85" x2="412.85" y1="385.4" y2="389.07"/>
<text class="ax" x="412.85" y="402.00" text-anchor="middle">2</text>
<line class="tk" x1="438.40" x2="438.40" y1="385.4" y2="389.07"/>
<text class="ax" x="438.40" y="402.00" text-anchor="middle">3</text>
</g>
<g>
<rect x="468.4" y="213.0" width="196.1" height="23.15" fill="#D1D1D1" stroke="#505050" stroke-width="1.07"/>
<text class="st" x="566.45" y="229.90" text-anchor="middle">Judge 6</text>
<rect x="468.4" y="236.5" width="196.1" height="148.89999999999998" fill="#fff"/>
<path class="c" stroke="#1364A7" d="M477.02,243.18 L478.30,243.20 L479.58,243.21 L480.86,243.22 L482.13,243.24 L483.41,243.26 L484.69,243.28 L485.97,243.30 L487.24,243.33 L488.52,243.36 L489.80,243.39 L491.08,243.43 L492.35,243.47 L493.63,243.52 L494.91,243.58 L496.19,243.64 L497.46,243.71 L498.74,243.79 L500.02,243.89 L501.30,243.99 L502.57,244.10 L503.85,244.24 L505.13,244.38 L506.41,244.55 L507.68,244.74 L508.96,244.96 L510.24,245.20 L511.52,245.47 L512.79,245.78 L514.07,246.12 L515.35,246.51 L516.63,246.95 L517.90,247.44 L519.18,247.99 L520.46,248.61 L521.74,249.30 L523.01,250.08 L524.29,250.95 L525.57,251.92 L526.85,253.00 L528.12,254.20 L529.40,255.53 L530.68,257.00 L531.96,258.63 L533.23,260.41 L534.51,262.38 L535.79,264.52 L537.07,266.85 L538.34,269.38 L539.62,272.11 L540.90,275.03 L542.18,278.16 L543.45,281.48 L544.73,284.98 L546.01,288.65 L547.29,292.48 L548.56,296.43 L549.84,300.50 L551.12,304.64 L552.40,308.82 L553.67,313.03 L554.95,317.21 L556.23,321.35 L557.51,325.42 L558.78,329.37 L560.06,333.20 L561.34,336.87 L562.62,340.37 L563.89,343.69 L565.17,346.82 L566.45,349.74 L567.73,352.47 L569.00,355.00 L570.28,357.33 L571.56,359.47 L572.84,361.44 L574.11,363.22 L575.39,364.85 L576.67,366.32 L577.95,367.65 L579.22,368.85 L580.50,369.93 L581.78,370.90 L583.06,371.77 L584.33,372.55 L585.61,373.24 L586.89,373.86 L588.17,374.41 L589.44,374.90 L590.72,375.34 L592.00,375.73 L593.28,376.07 L594.55,376.38 L595.83,376.65 L597.11,376.89 L598.39,377.11 L599.66,377.30 L600.94,377.47 L602.22,377.61 L603.50,377.75 L604.77,377.86 L606.05,377.96 L607.33,378.06 L608.61,378.14 L609.88,378.21 L611.16,378.27 L612.44,378.33 L613.72,378.38 L614.99,378.42 L616.27,378.46 L617.55,378.49 L618.83,378.52 L620.10,378.55 L621.38,378.57 L622.66,378.59 L623.94,378.61 L625.21,378.63 L626.49,378.64 L627.77,378.65 L629.05,378.67 L630.32,378.68 L631.60,378.68 L632.88,378.69 L634.16,378.70 L635.43,378.70 L636.71,378.71 L637.99,378.71 L639.27,378.72 L640.54,378.72 L641.82,378.73 L643.10,378.73 L644.38,378.73 L645.65,378.73 L646.93,378.74 L648.21,378.74 L649.49,378.74 L650.76,378.74 L652.04,378.74 L653.32,378.74 L654.60,378.74 L655.87,378.74"/>
<path class="c" stroke="#FF6D07" d="M477.02,378.67 L478.30,378.66 L479.58,378.65 L480.86,378.64 L482.13,378.62 L483.41,378.61 L484.69,378.59 L485.97,378.57 L487.24,378.54 L488.52,378.52 L489.80,378.48 L491.08,378.45 L492.35,378.41 L493.63,378.37 L494.91,378.31 L496.19,378.26 L497.46,378.19 L498.74,378.12 L500.02,378.04 L501.30,377.94 L502.57,377.84 L503.85,377.72 L505.13,377.58 L506.41,377.43 L507.68,377.26 L508.96,377.07 L510.24,376.85 L511.52,376.60 L512.79,376.32 L514.07,376.01 L515.35,375.66 L516.63,375.26 L517.90,374.82 L519.18,374.32 L520.46,373.76 L521.74,373.14 L523.01,372.44 L524.29,371.66 L525.57,370.79 L526.85,369.82 L528.12,368.74 L529.40,367.56 L530.68,366.25 L531.96,364.80 L533.23,363.22 L534.51,361.49 L535.79,359.61 L537.07,357.57 L538.34,355.38 L539.62,353.02 L540.90,350.52 L542.18,347.87 L543.45,345.08 L544.73,342.17 L546.01,339.17 L547.29,336.10 L548.56,332.98 L549.84,329.85 L551.12,326.75 L552.40,323.73 L553.67,320.81 L554.95,318.05 L556.23,315.48 L557.51,313.16 L558.78,311.11 L560.06,309.37 L561.34,307.96 L562.62,306.93 L563.89,306.27 L565.17,306.01 L566.45,306.14 L567.73,306.67 L569.00,307.59 L570.28,308.88 L571.56,310.51 L572.84,312.47 L574.11,314.71 L575.39,317.20 L576.67,319.91 L577.95,322.78 L579.22,325.78 L580.50,328.86 L581.78,331.98 L583.06,335.10 L584.33,338.19 L585.61,341.22 L586.89,344.16 L588.17,346.99 L589.44,349.68 L590.72,352.24 L592.00,354.64 L593.28,356.89 L594.55,358.98 L595.83,360.91 L597.11,362.68 L598.39,364.31 L599.66,365.80 L600.94,367.15 L602.22,368.38 L603.50,369.49 L604.77,370.49 L606.05,371.39 L607.33,372.20 L608.61,372.92 L609.88,373.57 L611.16,374.15 L612.44,374.67 L613.72,375.13 L614.99,375.54 L616.27,375.90 L617.55,376.23 L618.83,376.52 L620.10,376.77 L621.38,377.00 L622.66,377.20 L623.94,377.38 L625.21,377.54 L626.49,377.68 L627.77,377.80 L629.05,377.91 L630.32,378.01 L631.60,378.09 L632.88,378.17 L634.16,378.24 L635.43,378.30 L636.71,378.35 L637.99,378.40 L639.27,378.44 L640.54,378.47 L641.82,378.51 L643.10,378.53 L644.38,378.56 L645.65,378.58 L646.93,378.60 L648.21,378.62 L649.49,378.63 L650.76,378.65 L652.04,378.66 L653.32,378.67 L654.60,378.68 L655.87,378.69"/>
<path class="c" stroke="#1E901E" d="M477.02,378.75 L478.30,378.75 L479.58,378.75 L480.86,378.75 L482.13,378.75 L483.41,378.75 L484.69,378.74 L485.97,378.74 L487.24,378.74 L488.52,378.74 L489.80,378.74 L491.08,378.74 L492.35,378.74 L493.63,378.74 L494.91,378.74 L496.19,378.73 L497.46,378.73 L498.74,378.73 L500.02,378.73 L501.30,378.72 L502.57,378.72 L503.85,378.72 L505.13,378.71 L506.41,378.71 L507.68,378.70 L508.96,378.69 L510.24,378.69 L511.52,378.68 L512.79,378.67 L514.07,378.66 L515.35,378.65 L516.63,378.63 L517.90,378.62 L519.18,378.60 L520.46,378.58 L521.74,378.56 L523.01,378.53 L524.29,378.51 L525.57,378.47 L526.85,378.44 L528.12,378.40 L529.40,378.35 L530.68,378.30 L531.96,378.24 L533.23,378.18 L534.51,378.10 L535.79,378.02 L537.07,377.93 L538.34,377.82 L539.62,377.70 L540.90,377.57 L542.18,377.42 L543.45,377.26 L544.73,377.08 L546.01,376.87 L547.29,376.64 L548.56,376.39 L549.84,376.11 L551.12,375.81 L552.40,375.47 L553.67,375.10 L554.95,374.70 L556.23,374.27 L557.51,373.80 L558.78,373.30 L560.06,372.76 L561.34,372.20 L562.62,371.61 L563.89,371.00 L565.17,370.38 L566.45,369.75 L567.73,369.13 L569.00,368.51 L570.28,367.92 L571.56,367.37 L572.84,366.87 L574.11,366.43 L575.39,366.07 L576.67,365.79 L577.95,365.60 L579.22,365.51 L580.50,365.52 L581.78,365.63 L583.06,365.84 L584.33,366.14 L585.61,366.52 L586.89,366.97 L588.17,367.48 L589.44,368.04 L590.72,368.63 L592.00,369.25 L593.28,369.88 L594.55,370.51 L595.83,371.13 L597.11,371.73 L598.39,372.32 L599.66,372.87 L600.94,373.40 L602.22,373.90 L603.50,374.36 L604.77,374.78 L606.05,375.18 L607.33,375.54 L608.61,375.87 L609.88,376.17 L611.16,376.45 L612.44,376.69 L613.72,376.91 L614.99,377.11 L616.27,377.29 L617.55,377.46 L618.83,377.60 L620.10,377.73 L621.38,377.84 L622.66,377.95 L623.94,378.04 L625.21,378.12 L626.49,378.19 L627.77,378.25 L629.05,378.31 L630.32,378.36 L631.60,378.41 L632.88,378.45 L634.16,378.48 L635.43,378.51 L636.71,378.54 L637.99,378.56 L639.27,378.59 L640.54,378.60 L641.82,378.62 L643.10,378.64 L644.38,378.65 L645.65,378.66 L646.93,378.67 L648.21,378.68 L649.49,378.69 L650.76,378.70 L652.04,378.70 L653.32,378.71 L654.60,378.71 L655.87,378.72"/>
<path class="c" stroke="#CE1A1B" d="M477.02,378.74 L478.30,378.74 L479.58,378.74 L480.86,378.74 L482.13,378.74 L483.41,378.74 L484.69,378.74 L485.97,378.74 L487.24,378.74 L488.52,378.73 L489.80,378.73 L491.08,378.73 L492.35,378.73 L493.63,378.72 L494.91,378.72 L496.19,378.72 L497.46,378.71 L498.74,378.71 L500.02,378.70 L501.30,378.70 L502.57,378.69 L503.85,378.68 L505.13,378.67 L506.41,378.66 L507.68,378.65 L508.96,378.64 L510.24,378.62 L511.52,378.60 L512.79,378.58 L514.07,378.56 L515.35,378.54 L516.63,378.51 L517.90,378.48 L519.18,378.44 L520.46,378.40 L521.74,378.35 L523.01,378.30 L524.29,378.24 L525.57,378.18 L526.85,378.10 L528.12,378.02 L529.40,377.92 L530.68,377.81 L531.96,377.69 L533.23,377.55 L534.51,377.39 L535.79,377.22 L537.07,377.02 L538.34,376.79 L539.62,376.54 L540.90,376.25 L542.18,375.93 L543.45,375.56 L544.73,375.15 L546.01,374.69 L547.29,374.18 L548.56,373.60 L549.84,372.94 L551.12,372.22 L552.40,371.40 L553.67,370.49 L554.95,369.48 L556.23,368.35 L557.51,367.10 L558.78,365.71 L560.06,364.18 L561.34,362.49 L562.62,360.63 L563.89,358.60 L565.17,356.39 L566.45,353.99 L567.73,351.40 L569.00,348.61 L570.28,345.62 L571.56,342.45 L572.84,339.09 L574.11,335.57 L575.39,331.89 L576.67,328.09 L577.95,324.17 L579.22,320.18 L580.50,316.14 L581.78,312.08 L583.06,308.04 L584.33,304.06 L585.61,300.16 L586.89,296.38 L588.17,292.76 L589.44,289.30 L590.72,286.05 L592.00,283.02 L593.28,280.22 L594.55,277.67 L595.83,275.38 L597.11,273.36 L598.39,271.60 L599.66,270.12 L600.94,268.91 L602.22,267.98 L603.50,267.32 L604.77,266.94 L606.05,266.83 L607.33,267.00 L608.61,267.44 L609.88,268.16 L611.16,269.15 L612.44,270.42 L613.72,271.96 L614.99,273.78 L616.27,275.86 L617.55,278.21 L618.83,280.81 L620.10,283.67 L621.38,286.75 L622.66,290.05 L623.94,293.54 L625.21,297.20 L626.49,301.01 L627.77,304.93 L629.05,308.93 L630.32,312.97 L631.60,317.03 L632.88,321.06 L634.16,325.04 L635.43,328.93 L636.71,332.72 L637.99,336.36 L639.27,339.85 L640.54,343.16 L641.82,346.30 L643.10,349.24 L644.38,351.98 L645.65,354.54 L646.93,356.89 L648.21,359.07 L649.49,361.06 L650.76,362.87 L652.04,364.53 L653.32,366.03 L654.60,367.38 L655.87,368.61"/>
<path class="c" stroke="#8354B1" d="M477.02,378.75 L478.30,378.75 L479.58,378.75 L480.86,378.75 L482.13,378.75 L483.41,378.75 L484.69,378.75 L485.97,378.75 L487.24,378.75 L488.52,378.75 L489.80,378.75 L491.08,378.75 L492.35,378.75 L493.63,378.75 L494.91,378.75 L496.19,378.75 L497.46,378.75 L498.74,378.75 L500.02,378.75 L501.30,378.75 L502.57,378.75 L503.85,378.75 L505.13,378.75 L506.41,378.75 L507.68,378.75 L508.96,378.75 L510.24,378.75 L511.52,378.75 L512.79,378.75 L514.07,378.75 L515.35,378.75 L516.63,378.75 L517.90,378.75 L519.18,378.75 L520.46,378.75 L521.74,378.75 L523.01,378.75 L524.29,378.75 L525.57,378.74 L526.85,378.74 L528.12,378.74 L529.40,378.74 L530.68,378.74 L531.96,378.74 L533.23,378.74 L534.51,378.74 L535.79,378.74 L537.07,378.73 L538.34,378.73 L539.62,378.73 L540.90,378.73 L542.18,378.72 L543.45,378.72 L544.73,378.72 L546.01,378.71 L547.29,378.71 L548.56,378.70 L549.84,378.69 L551.12,378.69 L552.40,378.68 L553.67,378.67 L554.95,378.66 L556.23,378.65 L557.51,378.63 L558.78,378.62 L560.06,378.60 L561.34,378.58 L562.62,378.56 L563.89,378.53 L565.17,378.50 L566.45,378.47 L567.73,378.43 L569.00,378.39 L570.28,378.34 L571.56,378.29 L572.84,378.23 L574.11,378.16 L575.39,378.08 L576.67,377.99 L577.95,377.89 L579.22,377.78 L580.50,377.65 L581.78,377.51 L583.06,377.35 L584.33,377.17 L585.61,376.96 L586.89,376.73 L588.17,376.47 L589.44,376.17 L590.72,375.84 L592.00,375.46 L593.28,375.04 L594.55,374.56 L595.83,374.03 L597.11,373.43 L598.39,372.76 L599.66,372.01 L600.94,371.17 L602.22,370.23 L603.50,369.19 L604.77,368.03 L606.05,366.74 L607.33,365.31 L608.61,363.73 L609.88,361.99 L611.16,360.08 L612.44,357.99 L613.72,355.72 L614.99,353.25 L616.27,350.58 L617.55,347.72 L618.83,344.65 L620.10,341.39 L621.38,337.94 L622.66,334.32 L623.94,330.53 L625.21,326.62 L626.49,322.58 L627.77,318.46 L629.05,314.29 L630.32,310.08 L631.60,305.89 L632.88,301.73 L634.16,297.64 L635.43,293.65 L636.71,289.79 L637.99,286.07 L639.27,282.51 L640.54,279.14 L641.82,275.95 L643.10,272.96 L644.38,270.18 L645.65,267.59 L646.93,265.20 L648.21,263.00 L649.49,260.98 L650.76,259.14 L652.04,257.47 L653.32,255.95 L654.60,254.58 L655.87,253.34"/>
<path class="c" stroke="#7B4439" d="M477.02,378.23 L478.30,378.16 L479.58,378.09 L480.86,378.00 L482.13,377.90 L483.41,377.79 L484.69,377.66 L485.97,377.52 L487.24,377.36 L488.52,377.18 L489.80,376.98 L491.08,376.75 L492.35,376.49 L493.63,376.20 L494.91,375.87 L496.19,375.51 L497.46,375.09 L498.74,374.63 L500.02,374.11 L501.30,373.53 L502.57,372.88 L503.85,372.16 L505.13,371.35 L506.41,370.45 L507.68,369.46 L508.96,368.35 L510.24,367.14 L511.52,365.80 L512.79,364.33 L514.07,362.73 L515.35,360.98 L516.63,359.09 L517.90,357.05 L519.18,354.86 L520.46,352.52 L521.74,350.04 L523.01,347.42 L524.29,344.68 L525.57,341.83 L526.85,338.88 L528.12,335.86 L529.40,332.80 L530.68,329.71 L531.96,326.62 L533.23,323.56 L534.51,320.55 L535.79,317.63 L537.07,314.82 L538.34,312.13 L539.62,309.60 L540.90,307.23 L542.18,305.04 L543.45,303.05 L544.73,301.25 L546.01,299.66 L547.29,298.27 L548.56,297.08 L549.84,296.08 L551.12,295.27 L552.40,294.64 L553.67,294.16 L554.95,293.82 L556.23,293.61 L557.51,293.48 L558.78,293.43 L560.06,293.43 L561.34,293.44 L562.62,293.45 L563.89,293.44 L565.17,293.39 L566.45,293.29 L567.73,293.15 L569.00,292.97 L570.28,292.77 L571.56,292.56 L572.84,292.35 L574.11,292.18 L575.39,292.07 L576.67,292.02 L577.95,292.08 L579.22,292.24 L580.50,292.53 L581.78,292.96 L583.06,293.54 L584.33,294.26 L585.61,295.14 L586.89,296.18 L588.17,297.35 L589.44,298.67 L590.72,300.10 L592.00,301.64 L593.28,303.25 L594.55,304.90 L595.83,306.55 L597.11,308.17 L598.39,309.70 L599.66,311.09 L600.94,312.31 L602.22,313.30 L603.50,314.03 L604.77,314.47 L606.05,314.61 L607.33,314.43 L608.61,313.95 L609.88,313.19 L611.16,312.19 L612.44,310.97 L613.72,309.60 L614.99,308.11 L616.27,306.57 L617.55,305.02 L618.83,303.50 L620.10,302.05 L621.38,300.71 L622.66,299.51 L623.94,298.47 L625.21,297.61 L626.49,296.96 L627.77,296.51 L629.05,296.29 L630.32,296.29 L631.60,296.52 L632.88,296.99 L634.16,297.70 L635.43,298.64 L636.71,299.82 L637.99,301.23 L639.27,302.87 L640.54,304.72 L641.82,306.79 L643.10,309.06 L644.38,311.50 L645.65,314.11 L646.93,316.86 L648.21,319.74 L649.49,322.70 L650.76,325.74 L652.04,328.81 L653.32,331.90 L654.60,334.97 L655.87,338.00"/>
<rect class="b" x="468.4" y="236.85" width="196.1" height="148.55"/>
<line class="tk" x1="489.80" x2="489.80" y1="385.4" y2="389.07"/>
<text class="ax" x="489.80" y="402.00" text-anchor="middle">-3</text>
<line class="tk" x1="515.35" x2="515.35" y1="385.4" y2="389.07"/>
<text class="ax" x="515.35" y="402.00" text-anchor="middle">-2</text>
<line class="tk" x1="540.90" x2="540.90" y1="385.4" y2="389.07"/>
<text class="ax" x="540.90" y="402.00" text-anchor="middle">-1</text>
<line class="tk" x1="566.45" x2="566.45" y1="385.4" y2="389.07"/>
<text class="ax" x="566.45" y="402.00" text-anchor="middle">0</text>
<line class="tk" x1="592.00" x2="592.00" y1="385.4" y2="389.07"/>
<text class="ax" x="592.00" y="402.00" text-anchor="middle">1</text>
<line class="tk" x1="617.55" x2="617.55" y1="385.4" y2="389.07"/>
<text class="ax" x="617.55" y="402.00" text-anchor="middle">2</text>
<line class="tk" x1="643.10" x2="643.10" y1="385.4" y2="389.07"/>
<text class="ax" x="643.10" y="402.00" text-anchor="middle">3</text>
</g>
<line x1="114.50" x2="160.70" y1="453.8" y2="453.8" stroke="#1364A7" stroke-width="2.3"/>
<text class="lg" x="173.10" y="458.7">1</text>
<line x1="192.75" x2="238.95" y1="453.8" y2="453.8" stroke="#FF6D07" stroke-width="2.3"/>
<text class="lg" x="251.35" y="458.7">2</text>
<line x1="271.00" x2="317.20" y1="453.8" y2="453.8" stroke="#1E901E" stroke-width="2.3"/>
<text class="lg" x="329.60" y="458.7">3</text>
<line x1="349.25" x2="395.45" y1="453.8" y2="453.8" stroke="#CE1A1B" stroke-width="2.3"/>
<text class="lg" x="407.85" y="458.7">4</text>
<line x1="427.50" x2="473.70" y1="453.8" y2="453.8" stroke="#8354B1" stroke-width="2.3"/>
<text class="lg" x="486.10" y="458.7">5</text>
<line x1="506.25" x2="552.45" y1="453.8" y2="453.8" stroke="#7B4439" stroke-width="2.3"/>
<text class="lg" x="564.85" y="458.7">Reliability</text>
</svg></body></html>
